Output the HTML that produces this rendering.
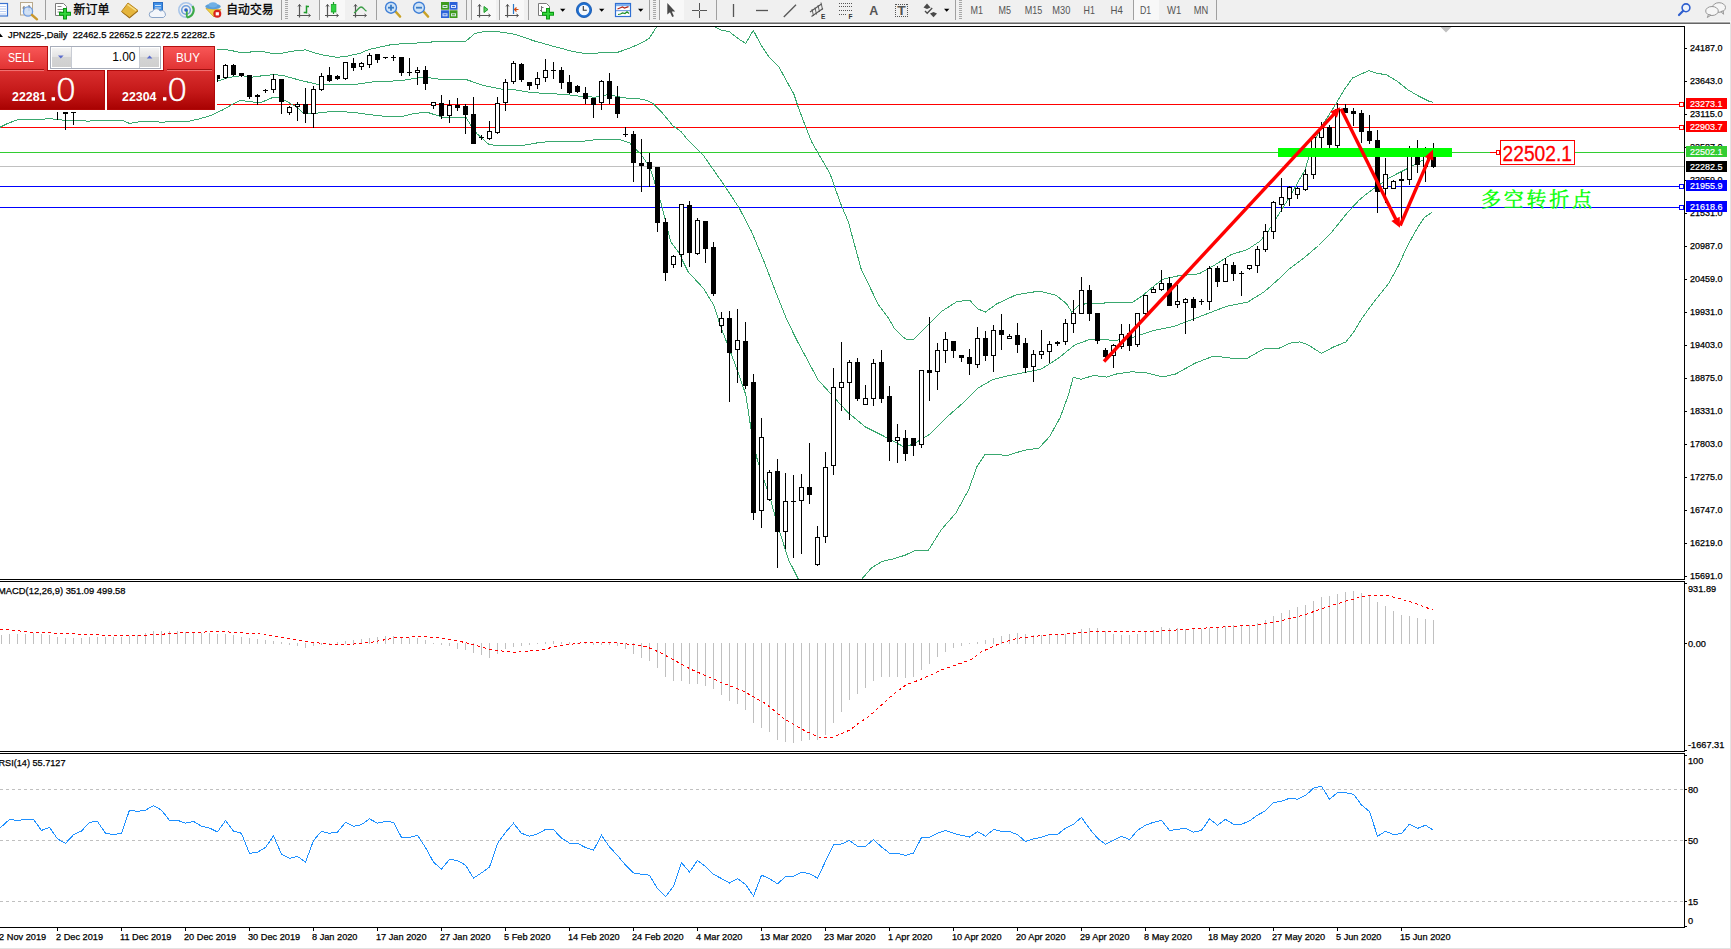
<!DOCTYPE html>
<html><head><meta charset="utf-8"><title>JPN225 Daily</title>
<style>html,body{margin:0;padding:0;background:#fff;overflow:hidden}body{width:1731px;height:949px;position:relative}text{white-space:pre}</style></head>
<body>
<svg width="1731" height="949" viewBox="0 0 1731 949" style="position:absolute;left:0;top:0;display:block">
<defs>
<clipPath id="cm"><rect x="0" y="27" width="1684" height="552"/></clipPath>
<clipPath id="cd"><rect x="0" y="582" width="1684" height="169"/></clipPath>
<clipPath id="cr"><rect x="0" y="754" width="1684" height="173"/></clipPath>
<linearGradient id="gtab" x1="0" y1="0" x2="0" y2="1"><stop offset="0" stop-color="#f85656"/><stop offset="1" stop-color="#df3030"/></linearGradient>
<linearGradient id="gblk" x1="0" y1="0" x2="0" y2="1"><stop offset="0" stop-color="#d92e2e"/><stop offset="0.55" stop-color="#c41818"/><stop offset="1" stop-color="#a90202"/></linearGradient>
<linearGradient id="gbtn" x1="0" y1="0" x2="0" y2="1"><stop offset="0" stop-color="#f4f4f4"/><stop offset="0.5" stop-color="#e2e2e2"/><stop offset="0.5" stop-color="#d4d4d4"/><stop offset="1" stop-color="#cfcfcf"/></linearGradient>
</defs>
<rect x="0" y="0" width="1731" height="949" fill="#fff" />
<g clip-path="url(#cm)" shape-rendering="crispEdges">
<rect x="0" y="104" width="1680" height="1" fill="#ff0000" />
<rect x="0" y="127" width="1680" height="1" fill="#ff0000" />
<rect x="0" y="152" width="1685" height="1" fill="#32cd32" />
<rect x="0" y="166" width="1685" height="1" fill="#c0c0c0" />
<rect x="0" y="186" width="1680" height="1" fill="#0000ff" />
<rect x="0" y="207" width="1680" height="1" fill="#0000ff" />
<polyline points="217.0,49.1 229.1,50.1 241.8,52.7 260.8,51.2 271.0,53.3 282.4,53.1 292.6,51.2 305.3,49.9 320.6,54.6 337.1,57.4 347.3,56.1 360.0,53.3 368.9,49.5 390.5,44.8 407.0,43.2 423.5,42.9 437.8,41.3 465.8,41.3 474.7,33.6 486.0,31.1 493.7,31.1 515.3,34.3 534.4,41.0 553.5,46.3 572.5,51.4 582.7,53.1 595.4,53.1 618.3,52.1 629.7,48.2 642.7,42.3 649.0,38.5 656.7,26.8 661.0,18.0 712.0,18.0 715.2,26.8 721.5,30.3 729.1,31.5 738.0,38.5 745.7,43.4 753.3,30.3 760.9,44.9 768.5,56.3 778.7,66.5 786.3,80.5 794.0,94.4 797.8,105.9 805.4,126.2 811.7,142.0 817.3,151.8 829.9,173.3 840.0,202.0 848.4,222.1 861.0,268.5 878.0,304.0 888.8,318.7 894.8,329.0 903.6,337.5 906.3,339.1 913.7,339.1 927.4,325.8 942.1,311.1 956.9,301.6 969.5,300.1 978.0,309.0 985.4,312.1 997.0,303.7 1016.0,294.9 1039.0,291.1 1056.0,295.3 1066.5,303.7 1071.8,312.1 1078.0,306.0 1085.5,303.7 1100.0,303.3 1116.9,302.2 1131.6,302.9 1142.1,295.9 1154.8,285.4 1163.2,279.1 1178.0,275.9 1199.0,273.8 1215.9,264.3 1230.7,254.8 1247.5,249.5 1260.2,241.1 1268.6,230.6 1279.1,213.7 1289.7,196.9 1299.2,180.0 1305.3,169.6 1310.6,150.0 1321.0,127.4 1331.7,110.6 1337.0,102.1 1344.3,89.5 1352.7,77.9 1369.0,70.6 1375.9,73.1 1386.4,74.8 1397.0,81.1 1407.5,89.5 1418.0,95.8 1428.6,101.1 1432.8,102.1" fill="none" stroke="#39a86f" stroke-width="1" />
<polyline points="217.0,81.3 229.0,77.5 241.8,75.6 252.0,77.2 263.4,75.6 273.5,74.7 282.4,75.3 299.0,80.0 318.0,84.5 337.0,84.7 353.6,84.7 372.7,81.9 388.0,81.3 403.0,80.4 419.7,77.5 427.6,77.5 439.0,79.1 465.8,79.4 483.5,85.5 502.6,89.3 511.5,89.3 531.8,92.7 547.0,93.4 566.0,94.6 582.7,96.5 595.4,97.2 608.0,94.6 623.4,97.8 630.0,98.3 637.6,98.6 646.5,100.2 652.9,103.3 661.8,112.2 673.2,126.2 680.8,131.3 688.3,140.5 703.5,155.6 721.2,180.9 738.9,207.5 751.5,231.5 764.2,261.9 776.8,294.7 786.9,320.0 797.4,341.3 818.0,379.7 831.3,394.4 847.5,412.1 865.2,426.9 882.9,435.7 903.6,446.7 912.6,444.5 929.5,434.4 946.4,417.5 963.2,402.8 978.0,388.0 992.7,379.6 1009.6,375.4 1026.4,372.2 1041.2,369.1 1058.0,358.5 1075.0,344.8 1089.7,339.5 1108.6,340.0 1116.9,340.2 1133.7,337.0 1152.7,330.7 1173.8,326.5 1190.6,320.1 1209.6,312.8 1226.4,306.4 1247.5,302.2 1264.4,291.7 1281.2,276.9 1290.0,268.3 1305.2,256.9 1318.5,245.5 1331.7,232.2 1346.9,213.3 1359.2,200.0 1365.4,194.9 1373.8,188.6 1390.7,177.0 1407.5,168.5 1424.4,159.1 1432.8,154.8" fill="none" stroke="#39a86f" stroke-width="1" />
<polyline points="0.0,127.3 7.6,123.5 16.5,120.1 22.9,119.1 44.5,119.1 48.3,118.2 54.7,119.4 63.6,120.1 82.6,120.1 87.7,121.6 94.0,120.1 122.0,120.1 129.6,123.5 139.8,121.6 156.3,121.4 161.4,122.6 169.0,121.4 188.1,121.4 198.3,119.1 209.7,115.9 222.7,109.9 231.6,104.8 240.5,100.1 248.1,101.6 260.8,102.6 273.5,97.2 277.4,97.4 286.0,101.0 296.0,106.7 304.0,113.4 314.2,113.7 320.6,112.4 337.0,111.4 353.6,112.4 375.0,115.3 390.5,116.9 400.6,116.9 413.0,113.7 423.5,112.4 427.6,112.4 442.9,117.3 465.8,117.3 470.8,125.1 477.2,134.0 488.6,144.2 496.3,145.5 521.7,145.5 540.7,142.3 559.8,141.0 585.0,141.0 600.5,139.1 618.3,139.1 629.7,142.9 632.6,146.8 640.2,153.1 650.3,168.3 660.5,201.2 670.6,241.6 678.2,251.7 688.3,272.0 703.5,288.4 713.6,304.9 720.7,326.6 735.4,364.9 745.7,394.4 751.6,432.8 757.5,460.8 770.8,500.6 778.2,527.2 788.5,559.7 798.8,580.0 810.0,600.0 850.0,600.0 861.0,580.0 871.6,567.8 882.1,561.5 894.8,558.5 905.3,555.1 915.9,550.1 928.5,550.1 941.2,529.8 955.9,513.0 968.6,489.8 977.0,466.6 985.4,454.0 1000.0,454.8 1007.5,455.5 1024.3,450.2 1039.0,448.1 1049.6,436.5 1060.2,417.5 1068.6,394.3 1073.2,377.5 1081.2,379.2 1093.9,375.4 1106.5,377.1 1116.9,373.9 1131.6,371.8 1146.4,372.8 1163.2,377.0 1175.9,373.9 1194.8,363.3 1213.8,356.0 1230.7,358.1 1247.5,358.1 1264.4,348.6 1279.1,348.2 1290.0,343.2 1299.5,341.9 1307.0,344.2 1321.3,353.3 1333.6,347.0 1346.0,341.9 1354.5,330.9 1361.1,319.5 1373.5,302.4 1388.6,283.5 1398.1,266.4 1407.6,245.5 1417.1,228.5 1424.7,217.1 1432.3,212.3" fill="none" stroke="#39a86f" stroke-width="1" />
<rect x="57" y="60" width="1" height="60" fill="#000" />
<rect x="55" y="62" width="5" height="39" fill="#000" />
<rect x="65" y="60" width="1" height="70" fill="#000" />
<rect x="63" y="70" width="5" height="44" fill="#000" />
<rect x="73" y="60" width="1" height="65" fill="#000" />
<rect x="71" y="80" width="5" height="33" fill="#000" />
<rect x="72" y="81" width="3" height="31" fill="#fff" />
<rect x="217" y="75" width="1" height="7" fill="#000" />
<rect x="215" y="75" width="5" height="4" fill="#000" />
<rect x="225" y="64" width="1" height="15" fill="#000" />
<rect x="223" y="65" width="5" height="13" fill="#000" />
<rect x="224" y="66" width="3" height="11" fill="#fff" />
<rect x="233" y="64" width="1" height="12" fill="#000" />
<rect x="231" y="65" width="5" height="10" fill="#000" />
<rect x="241" y="73" width="1" height="4" fill="#000" />
<rect x="239" y="73" width="5" height="3" fill="#000" />
<rect x="249" y="75" width="1" height="24" fill="#000" />
<rect x="247" y="75" width="5" height="22" fill="#000" />
<rect x="257" y="94" width="1" height="11" fill="#000" />
<rect x="255" y="95" width="5" height="2" fill="#000" />
<rect x="265" y="89" width="1" height="4" fill="#000" />
<rect x="263" y="90" width="5" height="1" fill="#000" />
<rect x="273" y="74" width="1" height="19" fill="#000" />
<rect x="271" y="79" width="5" height="11" fill="#000" />
<rect x="272" y="80" width="3" height="9" fill="#fff" />
<rect x="281" y="79" width="1" height="35" fill="#000" />
<rect x="279" y="79" width="5" height="23" fill="#000" />
<rect x="289" y="106" width="1" height="9" fill="#000" />
<rect x="287" y="107" width="5" height="6" fill="#000" />
<rect x="288" y="108" width="3" height="4" fill="#fff" />
<rect x="297" y="102" width="1" height="19" fill="#000" />
<rect x="295" y="104" width="5" height="3" fill="#000" />
<rect x="296" y="105" width="3" height="1" fill="#fff" />
<rect x="305" y="88" width="1" height="35" fill="#000" />
<rect x="303" y="104" width="5" height="10" fill="#000" />
<rect x="313" y="86" width="1" height="42" fill="#000" />
<rect x="311" y="89" width="5" height="25" fill="#000" />
<rect x="312" y="90" width="3" height="23" fill="#fff" />
<rect x="321" y="73" width="1" height="18" fill="#000" />
<rect x="319" y="76" width="5" height="14" fill="#000" />
<rect x="320" y="77" width="3" height="12" fill="#fff" />
<rect x="329" y="67" width="1" height="15" fill="#000" />
<rect x="327" y="75" width="5" height="6" fill="#000" />
<rect x="337" y="75" width="1" height="5" fill="#000" />
<rect x="335" y="76" width="5" height="3" fill="#000" />
<rect x="345" y="62" width="1" height="18" fill="#000" />
<rect x="343" y="62" width="5" height="17" fill="#000" />
<rect x="344" y="63" width="3" height="15" fill="#fff" />
<rect x="353" y="58" width="1" height="13" fill="#000" />
<rect x="351" y="63" width="5" height="5" fill="#000" />
<rect x="361" y="62" width="1" height="8" fill="#000" />
<rect x="359" y="63" width="5" height="4" fill="#000" />
<rect x="360" y="64" width="3" height="2" fill="#fff" />
<rect x="369" y="53" width="1" height="15" fill="#000" />
<rect x="367" y="55" width="5" height="10" fill="#000" />
<rect x="368" y="56" width="3" height="8" fill="#fff" />
<rect x="377" y="54" width="1" height="9" fill="#000" />
<rect x="375" y="54" width="5" height="6" fill="#000" />
<rect x="385" y="57" width="1" height="2" fill="#000" />
<rect x="383" y="57" width="5" height="1" fill="#000" />
<rect x="393" y="55" width="1" height="6" fill="#000" />
<rect x="391" y="57" width="5" height="1" fill="#000" />
<rect x="401" y="57" width="1" height="19" fill="#000" />
<rect x="399" y="57" width="5" height="16" fill="#000" />
<rect x="409" y="58" width="1" height="18" fill="#000" />
<rect x="407" y="72" width="5" height="1" fill="#000" />
<rect x="417" y="67" width="1" height="18" fill="#000" />
<rect x="415" y="70" width="5" height="3" fill="#000" />
<rect x="416" y="71" width="3" height="1" fill="#fff" />
<rect x="425" y="66" width="1" height="24" fill="#000" />
<rect x="423" y="70" width="5" height="14" fill="#000" />
<rect x="433" y="102" width="1" height="7" fill="#000" />
<rect x="431" y="102" width="5" height="4" fill="#000" />
<rect x="432" y="103" width="3" height="2" fill="#fff" />
<rect x="441" y="95" width="1" height="24" fill="#000" />
<rect x="439" y="103" width="5" height="13" fill="#000" />
<rect x="449" y="100" width="1" height="23" fill="#000" />
<rect x="447" y="105" width="5" height="11" fill="#000" />
<rect x="448" y="106" width="3" height="9" fill="#fff" />
<rect x="457" y="98" width="1" height="13" fill="#000" />
<rect x="455" y="105" width="5" height="3" fill="#000" />
<rect x="465" y="104" width="1" height="30" fill="#000" />
<rect x="463" y="106" width="5" height="9" fill="#000" />
<rect x="473" y="97" width="1" height="47" fill="#000" />
<rect x="471" y="114" width="5" height="30" fill="#000" />
<rect x="481" y="135" width="1" height="5" fill="#000" />
<rect x="479" y="137" width="5" height="1" fill="#000" />
<rect x="489" y="121" width="1" height="19" fill="#000" />
<rect x="487" y="131" width="5" height="8" fill="#000" />
<rect x="488" y="132" width="3" height="6" fill="#fff" />
<rect x="497" y="97" width="1" height="37" fill="#000" />
<rect x="495" y="103" width="5" height="30" fill="#000" />
<rect x="496" y="104" width="3" height="28" fill="#fff" />
<rect x="505" y="79" width="1" height="32" fill="#000" />
<rect x="503" y="82" width="5" height="21" fill="#000" />
<rect x="504" y="83" width="3" height="19" fill="#fff" />
<rect x="513" y="61" width="1" height="23" fill="#000" />
<rect x="511" y="63" width="5" height="19" fill="#000" />
<rect x="512" y="64" width="3" height="17" fill="#fff" />
<rect x="521" y="63" width="1" height="19" fill="#000" />
<rect x="519" y="64" width="5" height="16" fill="#000" />
<rect x="529" y="82" width="1" height="8" fill="#000" />
<rect x="527" y="82" width="5" height="4" fill="#000" />
<rect x="537" y="72" width="1" height="17" fill="#000" />
<rect x="535" y="78" width="5" height="7" fill="#000" />
<rect x="536" y="79" width="3" height="5" fill="#fff" />
<rect x="545" y="59" width="1" height="23" fill="#000" />
<rect x="543" y="70" width="5" height="8" fill="#000" />
<rect x="544" y="71" width="3" height="6" fill="#fff" />
<rect x="553" y="62" width="1" height="17" fill="#000" />
<rect x="551" y="70" width="5" height="1" fill="#000" />
<rect x="561" y="67" width="1" height="22" fill="#000" />
<rect x="559" y="70" width="5" height="13" fill="#000" />
<rect x="569" y="75" width="1" height="19" fill="#000" />
<rect x="567" y="82" width="5" height="11" fill="#000" />
<rect x="577" y="85" width="1" height="8" fill="#000" />
<rect x="575" y="86" width="5" height="6" fill="#000" />
<rect x="585" y="87" width="1" height="17" fill="#000" />
<rect x="583" y="93" width="5" height="6" fill="#000" />
<rect x="593" y="98" width="1" height="20" fill="#000" />
<rect x="591" y="98" width="5" height="7" fill="#000" />
<rect x="601" y="80" width="1" height="30" fill="#000" />
<rect x="599" y="81" width="5" height="22" fill="#000" />
<rect x="600" y="82" width="3" height="20" fill="#fff" />
<rect x="609" y="73" width="1" height="31" fill="#000" />
<rect x="607" y="81" width="5" height="18" fill="#000" />
<rect x="617" y="86" width="1" height="32" fill="#000" />
<rect x="615" y="97" width="5" height="17" fill="#000" />
<rect x="625" y="127" width="1" height="10" fill="#000" />
<rect x="623" y="134" width="5" height="1" fill="#000" />
<rect x="633" y="131" width="1" height="51" fill="#000" />
<rect x="631" y="134" width="5" height="29" fill="#000" />
<rect x="641" y="139" width="1" height="53" fill="#000" />
<rect x="639" y="163" width="5" height="3" fill="#000" />
<rect x="649" y="153" width="1" height="34" fill="#000" />
<rect x="647" y="162" width="5" height="7" fill="#000" />
<rect x="657" y="167" width="1" height="65" fill="#000" />
<rect x="655" y="167" width="5" height="56" fill="#000" />
<rect x="665" y="218" width="1" height="63" fill="#000" />
<rect x="663" y="222" width="5" height="51" fill="#000" />
<rect x="673" y="255" width="1" height="13" fill="#000" />
<rect x="671" y="256" width="5" height="9" fill="#000" />
<rect x="672" y="257" width="3" height="7" fill="#fff" />
<rect x="681" y="204" width="1" height="63" fill="#000" />
<rect x="679" y="204" width="5" height="51" fill="#000" />
<rect x="680" y="205" width="3" height="49" fill="#fff" />
<rect x="689" y="201" width="1" height="66" fill="#000" />
<rect x="687" y="205" width="5" height="48" fill="#000" />
<rect x="697" y="218" width="1" height="37" fill="#000" />
<rect x="695" y="220" width="5" height="34" fill="#000" />
<rect x="696" y="221" width="3" height="32" fill="#fff" />
<rect x="705" y="221" width="1" height="42" fill="#000" />
<rect x="703" y="221" width="5" height="28" fill="#000" />
<rect x="713" y="242" width="1" height="54" fill="#000" />
<rect x="711" y="247" width="5" height="47" fill="#000" />
<rect x="721" y="312" width="1" height="21" fill="#000" />
<rect x="719" y="318" width="5" height="8" fill="#000" />
<rect x="720" y="319" width="3" height="6" fill="#fff" />
<rect x="729" y="311" width="1" height="91" fill="#000" />
<rect x="727" y="318" width="5" height="35" fill="#000" />
<rect x="737" y="309" width="1" height="74" fill="#000" />
<rect x="735" y="340" width="5" height="10" fill="#000" />
<rect x="736" y="341" width="3" height="8" fill="#fff" />
<rect x="745" y="322" width="1" height="67" fill="#000" />
<rect x="743" y="341" width="5" height="45" fill="#000" />
<rect x="753" y="374" width="1" height="146" fill="#000" />
<rect x="751" y="382" width="5" height="131" fill="#000" />
<rect x="761" y="418" width="1" height="110" fill="#000" />
<rect x="759" y="437" width="5" height="74" fill="#000" />
<rect x="760" y="438" width="3" height="72" fill="#fff" />
<rect x="769" y="470" width="1" height="31" fill="#000" />
<rect x="767" y="472" width="5" height="28" fill="#000" />
<rect x="768" y="473" width="3" height="26" fill="#fff" />
<rect x="777" y="459" width="1" height="109" fill="#000" />
<rect x="775" y="471" width="5" height="61" fill="#000" />
<rect x="785" y="473" width="1" height="76" fill="#000" />
<rect x="783" y="501" width="5" height="31" fill="#000" />
<rect x="784" y="502" width="3" height="29" fill="#fff" />
<rect x="793" y="475" width="1" height="83" fill="#000" />
<rect x="791" y="501" width="5" height="1" fill="#000" />
<rect x="801" y="474" width="1" height="80" fill="#000" />
<rect x="799" y="487" width="5" height="14" fill="#000" />
<rect x="800" y="488" width="3" height="12" fill="#fff" />
<rect x="809" y="443" width="1" height="61" fill="#000" />
<rect x="807" y="487" width="5" height="8" fill="#000" />
<rect x="817" y="526" width="1" height="40" fill="#000" />
<rect x="815" y="537" width="5" height="28" fill="#000" />
<rect x="816" y="538" width="3" height="26" fill="#fff" />
<rect x="825" y="452" width="1" height="91" fill="#000" />
<rect x="823" y="467" width="5" height="70" fill="#000" />
<rect x="824" y="468" width="3" height="68" fill="#fff" />
<rect x="833" y="368" width="1" height="107" fill="#000" />
<rect x="831" y="387" width="5" height="79" fill="#000" />
<rect x="832" y="388" width="3" height="77" fill="#fff" />
<rect x="841" y="342" width="1" height="69" fill="#000" />
<rect x="839" y="382" width="5" height="6" fill="#000" />
<rect x="840" y="383" width="3" height="4" fill="#fff" />
<rect x="849" y="360" width="1" height="60" fill="#000" />
<rect x="847" y="362" width="5" height="21" fill="#000" />
<rect x="848" y="363" width="3" height="19" fill="#fff" />
<rect x="857" y="358" width="1" height="43" fill="#000" />
<rect x="855" y="362" width="5" height="37" fill="#000" />
<rect x="865" y="385" width="1" height="20" fill="#000" />
<rect x="863" y="398" width="5" height="7" fill="#000" />
<rect x="864" y="399" width="3" height="5" fill="#fff" />
<rect x="873" y="359" width="1" height="47" fill="#000" />
<rect x="871" y="363" width="5" height="36" fill="#000" />
<rect x="872" y="364" width="3" height="34" fill="#fff" />
<rect x="881" y="350" width="1" height="53" fill="#000" />
<rect x="879" y="362" width="5" height="37" fill="#000" />
<rect x="889" y="386" width="1" height="75" fill="#000" />
<rect x="887" y="396" width="5" height="46" fill="#000" />
<rect x="897" y="424" width="1" height="39" fill="#000" />
<rect x="895" y="437" width="5" height="4" fill="#000" />
<rect x="896" y="438" width="3" height="2" fill="#fff" />
<rect x="905" y="430" width="1" height="31" fill="#000" />
<rect x="903" y="438" width="5" height="16" fill="#000" />
<rect x="913" y="438" width="1" height="18" fill="#000" />
<rect x="911" y="438" width="5" height="8" fill="#000" />
<rect x="921" y="370" width="1" height="78" fill="#000" />
<rect x="919" y="370" width="5" height="75" fill="#000" />
<rect x="920" y="371" width="3" height="73" fill="#fff" />
<rect x="929" y="317" width="1" height="84" fill="#000" />
<rect x="927" y="370" width="5" height="3" fill="#000" />
<rect x="937" y="343" width="1" height="47" fill="#000" />
<rect x="935" y="350" width="5" height="22" fill="#000" />
<rect x="936" y="351" width="3" height="20" fill="#fff" />
<rect x="945" y="332" width="1" height="31" fill="#000" />
<rect x="943" y="339" width="5" height="12" fill="#000" />
<rect x="944" y="340" width="3" height="10" fill="#fff" />
<rect x="953" y="341" width="1" height="17" fill="#000" />
<rect x="951" y="341" width="5" height="10" fill="#000" />
<rect x="961" y="355" width="1" height="7" fill="#000" />
<rect x="959" y="355" width="5" height="3" fill="#000" />
<rect x="969" y="349" width="1" height="26" fill="#000" />
<rect x="967" y="357" width="5" height="7" fill="#000" />
<rect x="977" y="327" width="1" height="41" fill="#000" />
<rect x="975" y="338" width="5" height="27" fill="#000" />
<rect x="976" y="339" width="3" height="25" fill="#fff" />
<rect x="985" y="331" width="1" height="30" fill="#000" />
<rect x="983" y="338" width="5" height="18" fill="#000" />
<rect x="993" y="325" width="1" height="47" fill="#000" />
<rect x="991" y="330" width="5" height="26" fill="#000" />
<rect x="992" y="331" width="3" height="24" fill="#fff" />
<rect x="1001" y="314" width="1" height="36" fill="#000" />
<rect x="999" y="330" width="5" height="5" fill="#000" />
<rect x="1009" y="334" width="1" height="5" fill="#000" />
<rect x="1007" y="336" width="5" height="3" fill="#000" />
<rect x="1008" y="337" width="3" height="1" fill="#fff" />
<rect x="1017" y="323" width="1" height="30" fill="#000" />
<rect x="1015" y="335" width="5" height="10" fill="#000" />
<rect x="1025" y="338" width="1" height="35" fill="#000" />
<rect x="1023" y="343" width="5" height="25" fill="#000" />
<rect x="1033" y="350" width="1" height="32" fill="#000" />
<rect x="1031" y="354" width="5" height="13" fill="#000" />
<rect x="1032" y="355" width="3" height="11" fill="#fff" />
<rect x="1041" y="330" width="1" height="29" fill="#000" />
<rect x="1039" y="351" width="5" height="4" fill="#000" />
<rect x="1040" y="352" width="3" height="2" fill="#fff" />
<rect x="1049" y="341" width="1" height="22" fill="#000" />
<rect x="1047" y="344" width="5" height="8" fill="#000" />
<rect x="1048" y="345" width="3" height="6" fill="#fff" />
<rect x="1057" y="341" width="1" height="5" fill="#000" />
<rect x="1055" y="342" width="5" height="2" fill="#000" />
<rect x="1065" y="319" width="1" height="26" fill="#000" />
<rect x="1063" y="323" width="5" height="19" fill="#000" />
<rect x="1064" y="324" width="3" height="17" fill="#fff" />
<rect x="1073" y="300" width="1" height="33" fill="#000" />
<rect x="1071" y="313" width="5" height="11" fill="#000" />
<rect x="1072" y="314" width="3" height="9" fill="#fff" />
<rect x="1081" y="277" width="1" height="37" fill="#000" />
<rect x="1079" y="290" width="5" height="24" fill="#000" />
<rect x="1080" y="291" width="3" height="22" fill="#fff" />
<rect x="1089" y="285" width="1" height="36" fill="#000" />
<rect x="1087" y="290" width="5" height="24" fill="#000" />
<rect x="1097" y="313" width="1" height="31" fill="#000" />
<rect x="1095" y="313" width="5" height="28" fill="#000" />
<rect x="1105" y="348" width="1" height="11" fill="#000" />
<rect x="1103" y="350" width="5" height="7" fill="#000" />
<rect x="1113" y="344" width="1" height="24" fill="#000" />
<rect x="1111" y="345" width="5" height="11" fill="#000" />
<rect x="1112" y="346" width="3" height="9" fill="#fff" />
<rect x="1121" y="324" width="1" height="25" fill="#000" />
<rect x="1119" y="334" width="5" height="13" fill="#000" />
<rect x="1120" y="335" width="3" height="11" fill="#fff" />
<rect x="1129" y="324" width="1" height="27" fill="#000" />
<rect x="1127" y="333" width="5" height="13" fill="#000" />
<rect x="1137" y="313" width="1" height="34" fill="#000" />
<rect x="1135" y="313" width="5" height="32" fill="#000" />
<rect x="1136" y="314" width="3" height="30" fill="#fff" />
<rect x="1145" y="295" width="1" height="21" fill="#000" />
<rect x="1143" y="295" width="5" height="19" fill="#000" />
<rect x="1144" y="296" width="3" height="17" fill="#fff" />
<rect x="1153" y="287" width="1" height="6" fill="#000" />
<rect x="1151" y="289" width="5" height="4" fill="#000" />
<rect x="1152" y="290" width="3" height="2" fill="#fff" />
<rect x="1161" y="270" width="1" height="21" fill="#000" />
<rect x="1159" y="283" width="5" height="7" fill="#000" />
<rect x="1160" y="284" width="3" height="5" fill="#fff" />
<rect x="1169" y="277" width="1" height="29" fill="#000" />
<rect x="1167" y="283" width="5" height="23" fill="#000" />
<rect x="1177" y="285" width="1" height="23" fill="#000" />
<rect x="1175" y="301" width="5" height="4" fill="#000" />
<rect x="1176" y="302" width="3" height="2" fill="#fff" />
<rect x="1185" y="298" width="1" height="36" fill="#000" />
<rect x="1183" y="299" width="5" height="4" fill="#000" />
<rect x="1184" y="300" width="3" height="2" fill="#fff" />
<rect x="1193" y="297" width="1" height="24" fill="#000" />
<rect x="1191" y="299" width="5" height="9" fill="#000" />
<rect x="1201" y="299" width="1" height="6" fill="#000" />
<rect x="1199" y="301" width="5" height="1" fill="#000" />
<rect x="1209" y="266" width="1" height="44" fill="#000" />
<rect x="1207" y="268" width="5" height="34" fill="#000" />
<rect x="1208" y="269" width="3" height="32" fill="#fff" />
<rect x="1217" y="266" width="1" height="21" fill="#000" />
<rect x="1215" y="268" width="5" height="14" fill="#000" />
<rect x="1225" y="258" width="1" height="24" fill="#000" />
<rect x="1223" y="264" width="5" height="18" fill="#000" />
<rect x="1224" y="265" width="3" height="16" fill="#fff" />
<rect x="1233" y="262" width="1" height="19" fill="#000" />
<rect x="1231" y="265" width="5" height="9" fill="#000" />
<rect x="1241" y="271" width="1" height="25" fill="#000" />
<rect x="1239" y="273" width="5" height="1" fill="#000" />
<rect x="1249" y="265" width="1" height="5" fill="#000" />
<rect x="1247" y="265" width="5" height="4" fill="#000" />
<rect x="1248" y="266" width="3" height="2" fill="#fff" />
<rect x="1257" y="246" width="1" height="27" fill="#000" />
<rect x="1255" y="249" width="5" height="17" fill="#000" />
<rect x="1256" y="250" width="3" height="15" fill="#fff" />
<rect x="1265" y="224" width="1" height="28" fill="#000" />
<rect x="1263" y="231" width="5" height="19" fill="#000" />
<rect x="1264" y="232" width="3" height="17" fill="#fff" />
<rect x="1273" y="201" width="1" height="38" fill="#000" />
<rect x="1271" y="202" width="5" height="30" fill="#000" />
<rect x="1272" y="203" width="3" height="28" fill="#fff" />
<rect x="1281" y="178" width="1" height="34" fill="#000" />
<rect x="1279" y="197" width="5" height="8" fill="#000" />
<rect x="1280" y="198" width="3" height="6" fill="#fff" />
<rect x="1289" y="186" width="1" height="20" fill="#000" />
<rect x="1287" y="187" width="5" height="12" fill="#000" />
<rect x="1288" y="188" width="3" height="10" fill="#fff" />
<rect x="1297" y="187" width="1" height="12" fill="#000" />
<rect x="1295" y="188" width="5" height="7" fill="#000" />
<rect x="1296" y="189" width="3" height="5" fill="#fff" />
<rect x="1305" y="169" width="1" height="22" fill="#000" />
<rect x="1303" y="174" width="5" height="16" fill="#000" />
<rect x="1304" y="175" width="3" height="14" fill="#fff" />
<rect x="1313" y="134" width="1" height="45" fill="#000" />
<rect x="1311" y="137" width="5" height="38" fill="#000" />
<rect x="1312" y="138" width="3" height="36" fill="#fff" />
<rect x="1321" y="122" width="1" height="27" fill="#000" />
<rect x="1319" y="128" width="5" height="10" fill="#000" />
<rect x="1320" y="129" width="3" height="8" fill="#fff" />
<rect x="1329" y="125" width="1" height="23" fill="#000" />
<rect x="1327" y="127" width="5" height="18" fill="#000" />
<rect x="1337" y="103" width="1" height="46" fill="#000" />
<rect x="1335" y="109" width="5" height="37" fill="#000" />
<rect x="1336" y="110" width="3" height="35" fill="#fff" />
<rect x="1345" y="104" width="1" height="9" fill="#000" />
<rect x="1343" y="108" width="5" height="5" fill="#000" />
<rect x="1353" y="108" width="1" height="18" fill="#000" />
<rect x="1351" y="111" width="5" height="3" fill="#000" />
<rect x="1361" y="110" width="1" height="33" fill="#000" />
<rect x="1359" y="113" width="5" height="19" fill="#000" />
<rect x="1369" y="115" width="1" height="29" fill="#000" />
<rect x="1367" y="131" width="5" height="10" fill="#000" />
<rect x="1377" y="130" width="1" height="83" fill="#000" />
<rect x="1375" y="140" width="5" height="52" fill="#000" />
<rect x="1385" y="158" width="1" height="45" fill="#000" />
<rect x="1383" y="174" width="5" height="15" fill="#000" />
<rect x="1384" y="175" width="3" height="13" fill="#fff" />
<rect x="1393" y="180" width="1" height="9" fill="#000" />
<rect x="1391" y="181" width="5" height="8" fill="#000" />
<rect x="1392" y="182" width="3" height="6" fill="#fff" />
<rect x="1401" y="172" width="1" height="48" fill="#000" />
<rect x="1399" y="179" width="5" height="2" fill="#000" />
<rect x="1409" y="146" width="1" height="39" fill="#000" />
<rect x="1407" y="150" width="5" height="30" fill="#000" />
<rect x="1408" y="151" width="3" height="28" fill="#fff" />
<rect x="1417" y="140" width="1" height="33" fill="#000" />
<rect x="1415" y="152" width="5" height="13" fill="#000" />
<rect x="1425" y="147" width="1" height="35" fill="#000" />
<rect x="1423" y="151" width="5" height="16" fill="#000" />
<rect x="1424" y="152" width="3" height="14" fill="#fff" />
<rect x="1433" y="143" width="1" height="25" fill="#000" />
<rect x="1431" y="155" width="5" height="12" fill="#000" />
</g>
<rect x="1278" y="148" width="174" height="9" fill="#00ff00" shape-rendering="crispEdges"/>
<g clip-path="url(#cm)">
<line x1="1104.0" y1="361.5" x2="1334.9" y2="113.2" stroke="#ff0000" stroke-width="3.4"/>
<polygon points="1340.3,107.3 1336.9,117.8 1330.1,111.5" fill="#ff0000"/>
<line x1="1341.0" y1="108.8" x2="1396.4" y2="220.6" stroke="#ff0000" stroke-width="3.4"/>
<polygon points="1400.0,227.8 1391.4,220.9 1399.7,216.8" fill="#ff0000"/>
<line x1="1400.2" y1="225.5" x2="1429.8" y2="156.8" stroke="#ff0000" stroke-width="3.4"/>
<polygon points="1433.0,149.5 1433.3,160.5 1424.8,156.9" fill="#ff0000"/>
</g>
<g shape-rendering="crispEdges">
<rect x="1490" y="152" width="10" height="1" fill="#ff0000" />
<rect x="1496" y="150" width="4" height="5" fill="#ff0000" />
<rect x="1497" y="151" width="2" height="3" fill="#fff" />
<rect x="1500" y="140" width="75" height="25" fill="#ff0000" />
<rect x="1501" y="141" width="73" height="23" fill="#fff" />
</g>
<text x="1502.5" y="160.5" font-size="22" fill="#ff0000" text-anchor="start" font-weight="normal" font-family='"Liberation Sans", sans-serif' textLength="69.5" lengthAdjust="spacingAndGlyphs" stroke="#ff0000" stroke-width="0.3">22502.1</text>
<text x="1481" y="207" font-size="20" fill="#00ff00" text-anchor="start" font-weight="normal" font-family='"Liberation Serif", "Noto Serif CJK SC", serif' textLength="111" lengthAdjust="spacing" stroke="#00ff00" stroke-width="0.35">多空转折点</text>
<polygon points="1440.5,27 1451.5,27 1446,32.5" fill="#c0c0c0"/>
<g shape-rendering="crispEdges">
<rect x="0" y="26" width="1685" height="1" fill="#000" />
<rect x="1684" y="26" width="1" height="554" fill="#000" />
<rect x="0" y="579" width="1685" height="1" fill="#000" />
<rect x="0" y="581" width="1685" height="1" fill="#000" />
<rect x="1684" y="581" width="1" height="171" fill="#000" />
<rect x="0" y="751" width="1685" height="1" fill="#000" />
<rect x="0" y="753" width="1685" height="1" fill="#000" />
<rect x="1684" y="753" width="1" height="175" fill="#000" />
<rect x="0" y="927" width="1685" height="1" fill="#000" />
<rect x="1730" y="23" width="1" height="926" fill="#e3e3e3" />
<rect x="0" y="948" width="1731" height="1" fill="#e3e3e3" />
<rect x="1685" y="48" width="2" height="1" fill="#000" />
<rect x="1685" y="81" width="2" height="1" fill="#000" />
<rect x="1685" y="114" width="2" height="1" fill="#000" />
<rect x="1685" y="147" width="2" height="1" fill="#000" />
<rect x="1685" y="180" width="2" height="1" fill="#000" />
<rect x="1685" y="213" width="2" height="1" fill="#000" />
<rect x="1685" y="246" width="2" height="1" fill="#000" />
<rect x="1685" y="279" width="2" height="1" fill="#000" />
<rect x="1685" y="312" width="2" height="1" fill="#000" />
<rect x="1685" y="345" width="2" height="1" fill="#000" />
<rect x="1685" y="378" width="2" height="1" fill="#000" />
<rect x="1685" y="411" width="2" height="1" fill="#000" />
<rect x="1685" y="444" width="2" height="1" fill="#000" />
<rect x="1685" y="477" width="2" height="1" fill="#000" />
<rect x="1685" y="510" width="2" height="1" fill="#000" />
<rect x="1685" y="543" width="2" height="1" fill="#000" />
<rect x="1685" y="576" width="2" height="1" fill="#000" />
<rect x="1685" y="583" width="2" height="1" fill="#000" />
<rect x="1685" y="643" width="2" height="1" fill="#000" />
<rect x="1685" y="750" width="2" height="1" fill="#000" />
<rect x="1685" y="755" width="2" height="1" fill="#000" />
<rect x="1685" y="789" width="2" height="1" fill="#000" />
<rect x="1685" y="840" width="2" height="1" fill="#000" />
<rect x="1685" y="901" width="2" height="1" fill="#000" />
<rect x="1685" y="926" width="2" height="1" fill="#000" />
<rect x="57" y="928" width="1" height="3" fill="#000" />
<rect x="121" y="928" width="1" height="3" fill="#000" />
<rect x="185" y="928" width="1" height="3" fill="#000" />
<rect x="249" y="928" width="1" height="3" fill="#000" />
<rect x="313" y="928" width="1" height="3" fill="#000" />
<rect x="377" y="928" width="1" height="3" fill="#000" />
<rect x="441" y="928" width="1" height="3" fill="#000" />
<rect x="505" y="928" width="1" height="3" fill="#000" />
<rect x="569" y="928" width="1" height="3" fill="#000" />
<rect x="633" y="928" width="1" height="3" fill="#000" />
<rect x="697" y="928" width="1" height="3" fill="#000" />
<rect x="761" y="928" width="1" height="3" fill="#000" />
<rect x="825" y="928" width="1" height="3" fill="#000" />
<rect x="889" y="928" width="1" height="3" fill="#000" />
<rect x="953" y="928" width="1" height="3" fill="#000" />
<rect x="1017" y="928" width="1" height="3" fill="#000" />
<rect x="1081" y="928" width="1" height="3" fill="#000" />
<rect x="1145" y="928" width="1" height="3" fill="#000" />
<rect x="1209" y="928" width="1" height="3" fill="#000" />
<rect x="1273" y="928" width="1" height="3" fill="#000" />
<rect x="1337" y="928" width="1" height="3" fill="#000" />
<rect x="1401" y="928" width="1" height="3" fill="#000" />
</g>
<text x="1690" y="51.4" font-size="9.2" fill="#000" text-anchor="start" font-weight="normal" font-family='"Liberation Sans", sans-serif' textLength="32.5" lengthAdjust="spacingAndGlyphs" stroke="#000" stroke-width="0.25">24187.0</text>
<text x="1690" y="84.4" font-size="9.2" fill="#000" text-anchor="start" font-weight="normal" font-family='"Liberation Sans", sans-serif' textLength="32.5" lengthAdjust="spacingAndGlyphs" stroke="#000" stroke-width="0.25">23643.0</text>
<text x="1690" y="117.4" font-size="9.2" fill="#000" text-anchor="start" font-weight="normal" font-family='"Liberation Sans", sans-serif' textLength="32.5" lengthAdjust="spacingAndGlyphs" stroke="#000" stroke-width="0.25">23115.0</text>
<text x="1690" y="150.4" font-size="9.2" fill="#000" text-anchor="start" font-weight="normal" font-family='"Liberation Sans", sans-serif' textLength="32.5" lengthAdjust="spacingAndGlyphs" stroke="#000" stroke-width="0.25">22587.0</text>
<text x="1690" y="183.4" font-size="9.2" fill="#000" text-anchor="start" font-weight="normal" font-family='"Liberation Sans", sans-serif' textLength="32.5" lengthAdjust="spacingAndGlyphs" stroke="#000" stroke-width="0.25">22059.0</text>
<text x="1690" y="216.4" font-size="9.2" fill="#000" text-anchor="start" font-weight="normal" font-family='"Liberation Sans", sans-serif' textLength="32.5" lengthAdjust="spacingAndGlyphs" stroke="#000" stroke-width="0.25">21531.0</text>
<text x="1690" y="249.4" font-size="9.2" fill="#000" text-anchor="start" font-weight="normal" font-family='"Liberation Sans", sans-serif' textLength="32.5" lengthAdjust="spacingAndGlyphs" stroke="#000" stroke-width="0.25">20987.0</text>
<text x="1690" y="282.4" font-size="9.2" fill="#000" text-anchor="start" font-weight="normal" font-family='"Liberation Sans", sans-serif' textLength="32.5" lengthAdjust="spacingAndGlyphs" stroke="#000" stroke-width="0.25">20459.0</text>
<text x="1690" y="315.4" font-size="9.2" fill="#000" text-anchor="start" font-weight="normal" font-family='"Liberation Sans", sans-serif' textLength="32.5" lengthAdjust="spacingAndGlyphs" stroke="#000" stroke-width="0.25">19931.0</text>
<text x="1690" y="348.4" font-size="9.2" fill="#000" text-anchor="start" font-weight="normal" font-family='"Liberation Sans", sans-serif' textLength="32.5" lengthAdjust="spacingAndGlyphs" stroke="#000" stroke-width="0.25">19403.0</text>
<text x="1690" y="381.4" font-size="9.2" fill="#000" text-anchor="start" font-weight="normal" font-family='"Liberation Sans", sans-serif' textLength="32.5" lengthAdjust="spacingAndGlyphs" stroke="#000" stroke-width="0.25">18875.0</text>
<text x="1690" y="414.4" font-size="9.2" fill="#000" text-anchor="start" font-weight="normal" font-family='"Liberation Sans", sans-serif' textLength="32.5" lengthAdjust="spacingAndGlyphs" stroke="#000" stroke-width="0.25">18331.0</text>
<text x="1690" y="447.4" font-size="9.2" fill="#000" text-anchor="start" font-weight="normal" font-family='"Liberation Sans", sans-serif' textLength="32.5" lengthAdjust="spacingAndGlyphs" stroke="#000" stroke-width="0.25">17803.0</text>
<text x="1690" y="480.4" font-size="9.2" fill="#000" text-anchor="start" font-weight="normal" font-family='"Liberation Sans", sans-serif' textLength="32.5" lengthAdjust="spacingAndGlyphs" stroke="#000" stroke-width="0.25">17275.0</text>
<text x="1690" y="513.4" font-size="9.2" fill="#000" text-anchor="start" font-weight="normal" font-family='"Liberation Sans", sans-serif' textLength="32.5" lengthAdjust="spacingAndGlyphs" stroke="#000" stroke-width="0.25">16747.0</text>
<text x="1690" y="546.4" font-size="9.2" fill="#000" text-anchor="start" font-weight="normal" font-family='"Liberation Sans", sans-serif' textLength="32.5" lengthAdjust="spacingAndGlyphs" stroke="#000" stroke-width="0.25">16219.0</text>
<text x="1690" y="579.4" font-size="9.2" fill="#000" text-anchor="start" font-weight="normal" font-family='"Liberation Sans", sans-serif' textLength="32.5" lengthAdjust="spacingAndGlyphs" stroke="#000" stroke-width="0.25">15691.0</text>
<text x="1688" y="592" font-size="9.2" fill="#000" text-anchor="start" font-weight="normal" font-family='"Liberation Sans", sans-serif' stroke="#000" stroke-width="0.25">931.89</text>
<text x="1688" y="647" font-size="9.2" fill="#000" text-anchor="start" font-weight="normal" font-family='"Liberation Sans", sans-serif' stroke="#000" stroke-width="0.25">0.00</text>
<text x="1688" y="748.3" font-size="9.2" fill="#000" text-anchor="start" font-weight="normal" font-family='"Liberation Sans", sans-serif' stroke="#000" stroke-width="0.25">-1667.31</text>
<text x="1688" y="764" font-size="9.2" fill="#000" text-anchor="start" font-weight="normal" font-family='"Liberation Sans", sans-serif' stroke="#000" stroke-width="0.25">100</text>
<text x="1688" y="793" font-size="9.2" fill="#000" text-anchor="start" font-weight="normal" font-family='"Liberation Sans", sans-serif' stroke="#000" stroke-width="0.25">80</text>
<text x="1688" y="844" font-size="9.2" fill="#000" text-anchor="start" font-weight="normal" font-family='"Liberation Sans", sans-serif' stroke="#000" stroke-width="0.25">50</text>
<text x="1688" y="905" font-size="9.2" fill="#000" text-anchor="start" font-weight="normal" font-family='"Liberation Sans", sans-serif' stroke="#000" stroke-width="0.25">15</text>
<text x="1688" y="924" font-size="9.2" fill="#000" text-anchor="start" font-weight="normal" font-family='"Liberation Sans", sans-serif' stroke="#000" stroke-width="0.25">0</text>
<text x="-6" y="940" font-size="9.2" fill="#000" text-anchor="start" font-weight="normal" font-family='"Liberation Sans", sans-serif' stroke="#000" stroke-width="0.25">22 Nov 2019</text>
<text x="56" y="940" font-size="9.2" fill="#000" text-anchor="start" font-weight="normal" font-family='"Liberation Sans", sans-serif' stroke="#000" stroke-width="0.25">2 Dec 2019</text>
<text x="120" y="940" font-size="9.2" fill="#000" text-anchor="start" font-weight="normal" font-family='"Liberation Sans", sans-serif' stroke="#000" stroke-width="0.25">11 Dec 2019</text>
<text x="184" y="940" font-size="9.2" fill="#000" text-anchor="start" font-weight="normal" font-family='"Liberation Sans", sans-serif' stroke="#000" stroke-width="0.25">20 Dec 2019</text>
<text x="248" y="940" font-size="9.2" fill="#000" text-anchor="start" font-weight="normal" font-family='"Liberation Sans", sans-serif' stroke="#000" stroke-width="0.25">30 Dec 2019</text>
<text x="312" y="940" font-size="9.2" fill="#000" text-anchor="start" font-weight="normal" font-family='"Liberation Sans", sans-serif' stroke="#000" stroke-width="0.25">8 Jan 2020</text>
<text x="376" y="940" font-size="9.2" fill="#000" text-anchor="start" font-weight="normal" font-family='"Liberation Sans", sans-serif' stroke="#000" stroke-width="0.25">17 Jan 2020</text>
<text x="440" y="940" font-size="9.2" fill="#000" text-anchor="start" font-weight="normal" font-family='"Liberation Sans", sans-serif' stroke="#000" stroke-width="0.25">27 Jan 2020</text>
<text x="504" y="940" font-size="9.2" fill="#000" text-anchor="start" font-weight="normal" font-family='"Liberation Sans", sans-serif' stroke="#000" stroke-width="0.25">5 Feb 2020</text>
<text x="568" y="940" font-size="9.2" fill="#000" text-anchor="start" font-weight="normal" font-family='"Liberation Sans", sans-serif' stroke="#000" stroke-width="0.25">14 Feb 2020</text>
<text x="632" y="940" font-size="9.2" fill="#000" text-anchor="start" font-weight="normal" font-family='"Liberation Sans", sans-serif' stroke="#000" stroke-width="0.25">24 Feb 2020</text>
<text x="696" y="940" font-size="9.2" fill="#000" text-anchor="start" font-weight="normal" font-family='"Liberation Sans", sans-serif' stroke="#000" stroke-width="0.25">4 Mar 2020</text>
<text x="760" y="940" font-size="9.2" fill="#000" text-anchor="start" font-weight="normal" font-family='"Liberation Sans", sans-serif' stroke="#000" stroke-width="0.25">13 Mar 2020</text>
<text x="824" y="940" font-size="9.2" fill="#000" text-anchor="start" font-weight="normal" font-family='"Liberation Sans", sans-serif' stroke="#000" stroke-width="0.25">23 Mar 2020</text>
<text x="888" y="940" font-size="9.2" fill="#000" text-anchor="start" font-weight="normal" font-family='"Liberation Sans", sans-serif' stroke="#000" stroke-width="0.25">1 Apr 2020</text>
<text x="952" y="940" font-size="9.2" fill="#000" text-anchor="start" font-weight="normal" font-family='"Liberation Sans", sans-serif' stroke="#000" stroke-width="0.25">10 Apr 2020</text>
<text x="1016" y="940" font-size="9.2" fill="#000" text-anchor="start" font-weight="normal" font-family='"Liberation Sans", sans-serif' stroke="#000" stroke-width="0.25">20 Apr 2020</text>
<text x="1080" y="940" font-size="9.2" fill="#000" text-anchor="start" font-weight="normal" font-family='"Liberation Sans", sans-serif' stroke="#000" stroke-width="0.25">29 Apr 2020</text>
<text x="1144" y="940" font-size="9.2" fill="#000" text-anchor="start" font-weight="normal" font-family='"Liberation Sans", sans-serif' stroke="#000" stroke-width="0.25">8 May 2020</text>
<text x="1208" y="940" font-size="9.2" fill="#000" text-anchor="start" font-weight="normal" font-family='"Liberation Sans", sans-serif' stroke="#000" stroke-width="0.25">18 May 2020</text>
<text x="1272" y="940" font-size="9.2" fill="#000" text-anchor="start" font-weight="normal" font-family='"Liberation Sans", sans-serif' stroke="#000" stroke-width="0.25">27 May 2020</text>
<text x="1336" y="940" font-size="9.2" fill="#000" text-anchor="start" font-weight="normal" font-family='"Liberation Sans", sans-serif' stroke="#000" stroke-width="0.25">5 Jun 2020</text>
<text x="1400" y="940" font-size="9.2" fill="#000" text-anchor="start" font-weight="normal" font-family='"Liberation Sans", sans-serif' stroke="#000" stroke-width="0.25">15 Jun 2020</text>
<g shape-rendering="crispEdges">
<rect x="1686" y="98" width="41" height="11" fill="#ff0000" />
<rect x="1679" y="102" width="5" height="5" fill="#ff0000" />
<rect x="1680" y="103" width="3" height="3" fill="#fff" />
<rect x="1686" y="121" width="41" height="11" fill="#ff0000" />
<rect x="1679" y="125" width="5" height="5" fill="#ff0000" />
<rect x="1680" y="126" width="3" height="3" fill="#fff" />
<rect x="1686" y="146" width="41" height="11" fill="#32cd32" />
<rect x="1686" y="161" width="41" height="11" fill="#000000" />
<rect x="1686" y="180" width="41" height="11" fill="#0000ff" />
<rect x="1679" y="184" width="5" height="5" fill="#0000ff" />
<rect x="1680" y="185" width="3" height="3" fill="#fff" />
<rect x="1686" y="201" width="41" height="11" fill="#0000ff" />
<rect x="1679" y="205" width="5" height="5" fill="#0000ff" />
<rect x="1680" y="206" width="3" height="3" fill="#fff" />
</g>
<text x="1690" y="106.8" font-size="9.2" fill="#fff" text-anchor="start" font-weight="normal" font-family='"Liberation Sans", sans-serif' textLength="32.5" lengthAdjust="spacingAndGlyphs" stroke="#fff" stroke-width="0.2">23273.1</text>
<text x="1690" y="129.8" font-size="9.2" fill="#fff" text-anchor="start" font-weight="normal" font-family='"Liberation Sans", sans-serif' textLength="32.5" lengthAdjust="spacingAndGlyphs" stroke="#fff" stroke-width="0.2">22903.7</text>
<text x="1690" y="154.8" font-size="9.2" fill="#fff" text-anchor="start" font-weight="normal" font-family='"Liberation Sans", sans-serif' textLength="32.5" lengthAdjust="spacingAndGlyphs" stroke="#fff" stroke-width="0.2">22502.1</text>
<text x="1690" y="169.8" font-size="9.2" fill="#fff" text-anchor="start" font-weight="normal" font-family='"Liberation Sans", sans-serif' textLength="32.5" lengthAdjust="spacingAndGlyphs" stroke="#fff" stroke-width="0.2">22282.5</text>
<text x="1690" y="188.8" font-size="9.2" fill="#fff" text-anchor="start" font-weight="normal" font-family='"Liberation Sans", sans-serif' textLength="32.5" lengthAdjust="spacingAndGlyphs" stroke="#fff" stroke-width="0.2">21955.9</text>
<text x="1690" y="209.8" font-size="9.2" fill="#fff" text-anchor="start" font-weight="normal" font-family='"Liberation Sans", sans-serif' textLength="32.5" lengthAdjust="spacingAndGlyphs" stroke="#fff" stroke-width="0.2">21618.6</text>
<g clip-path="url(#cd)" shape-rendering="crispEdges">
<rect x="1" y="635" width="1" height="9" fill="#c0c0c0" />
<rect x="9" y="634" width="1" height="10" fill="#c0c0c0" />
<rect x="17" y="634" width="1" height="10" fill="#c0c0c0" />
<rect x="25" y="634" width="1" height="10" fill="#c0c0c0" />
<rect x="33" y="633" width="1" height="11" fill="#c0c0c0" />
<rect x="41" y="634" width="1" height="10" fill="#c0c0c0" />
<rect x="49" y="635" width="1" height="9" fill="#c0c0c0" />
<rect x="57" y="637" width="1" height="7" fill="#c0c0c0" />
<rect x="65" y="638" width="1" height="6" fill="#c0c0c0" />
<rect x="73" y="638" width="1" height="6" fill="#c0c0c0" />
<rect x="81" y="638" width="1" height="6" fill="#c0c0c0" />
<rect x="89" y="637" width="1" height="7" fill="#c0c0c0" />
<rect x="97" y="637" width="1" height="7" fill="#c0c0c0" />
<rect x="105" y="637" width="1" height="7" fill="#c0c0c0" />
<rect x="113" y="637" width="1" height="7" fill="#c0c0c0" />
<rect x="121" y="637" width="1" height="7" fill="#c0c0c0" />
<rect x="129" y="636" width="1" height="8" fill="#c0c0c0" />
<rect x="137" y="635" width="1" height="9" fill="#c0c0c0" />
<rect x="145" y="633" width="1" height="11" fill="#c0c0c0" />
<rect x="153" y="631" width="1" height="13" fill="#c0c0c0" />
<rect x="161" y="631" width="1" height="13" fill="#c0c0c0" />
<rect x="169" y="631" width="1" height="13" fill="#c0c0c0" />
<rect x="177" y="631" width="1" height="13" fill="#c0c0c0" />
<rect x="185" y="632" width="1" height="12" fill="#c0c0c0" />
<rect x="193" y="632" width="1" height="12" fill="#c0c0c0" />
<rect x="201" y="633" width="1" height="11" fill="#c0c0c0" />
<rect x="209" y="633" width="1" height="11" fill="#c0c0c0" />
<rect x="217" y="634" width="1" height="10" fill="#c0c0c0" />
<rect x="225" y="634" width="1" height="10" fill="#c0c0c0" />
<rect x="233" y="635" width="1" height="9" fill="#c0c0c0" />
<rect x="241" y="637" width="1" height="7" fill="#c0c0c0" />
<rect x="249" y="638" width="1" height="6" fill="#c0c0c0" />
<rect x="257" y="639" width="1" height="5" fill="#c0c0c0" />
<rect x="265" y="640" width="1" height="4" fill="#c0c0c0" />
<rect x="273" y="641" width="1" height="3" fill="#c0c0c0" />
<rect x="281" y="642" width="1" height="2" fill="#c0c0c0" />
<rect x="289" y="643" width="1" height="2" fill="#c0c0c0" />
<rect x="297" y="643" width="1" height="3" fill="#c0c0c0" />
<rect x="305" y="643" width="1" height="5" fill="#c0c0c0" />
<rect x="313" y="643" width="1" height="3" fill="#c0c0c0" />
<rect x="321" y="643" width="1" height="2" fill="#c0c0c0" />
<rect x="329" y="643" width="1" height="1" fill="#c0c0c0" />
<rect x="337" y="642" width="1" height="2" fill="#c0c0c0" />
<rect x="345" y="641" width="1" height="3" fill="#c0c0c0" />
<rect x="353" y="640" width="1" height="4" fill="#c0c0c0" />
<rect x="361" y="639" width="1" height="5" fill="#c0c0c0" />
<rect x="369" y="638" width="1" height="6" fill="#c0c0c0" />
<rect x="377" y="637" width="1" height="7" fill="#c0c0c0" />
<rect x="385" y="636" width="1" height="8" fill="#c0c0c0" />
<rect x="393" y="636" width="1" height="8" fill="#c0c0c0" />
<rect x="401" y="638" width="1" height="6" fill="#c0c0c0" />
<rect x="409" y="638" width="1" height="6" fill="#c0c0c0" />
<rect x="417" y="638" width="1" height="6" fill="#c0c0c0" />
<rect x="425" y="640" width="1" height="4" fill="#c0c0c0" />
<rect x="433" y="643" width="1" height="1" fill="#c0c0c0" />
<rect x="441" y="643" width="1" height="2" fill="#c0c0c0" />
<rect x="449" y="643" width="1" height="3" fill="#c0c0c0" />
<rect x="457" y="643" width="1" height="6" fill="#c0c0c0" />
<rect x="465" y="643" width="1" height="7" fill="#c0c0c0" />
<rect x="473" y="643" width="1" height="10" fill="#c0c0c0" />
<rect x="481" y="643" width="1" height="12" fill="#c0c0c0" />
<rect x="489" y="643" width="1" height="15" fill="#c0c0c0" />
<rect x="497" y="643" width="1" height="11" fill="#c0c0c0" />
<rect x="505" y="643" width="1" height="6" fill="#c0c0c0" />
<rect x="513" y="643" width="1" height="4" fill="#c0c0c0" />
<rect x="521" y="643" width="1" height="3" fill="#c0c0c0" />
<rect x="529" y="643" width="1" height="2" fill="#c0c0c0" />
<rect x="537" y="643" width="1" height="1" fill="#c0c0c0" />
<rect x="545" y="642" width="1" height="2" fill="#c0c0c0" />
<rect x="553" y="641" width="1" height="3" fill="#c0c0c0" />
<rect x="561" y="642" width="1" height="2" fill="#c0c0c0" />
<rect x="569" y="642" width="1" height="2" fill="#c0c0c0" />
<rect x="577" y="643" width="1" height="1" fill="#c0c0c0" />
<rect x="585" y="643" width="1" height="1" fill="#c0c0c0" />
<rect x="593" y="643" width="1" height="2" fill="#c0c0c0" />
<rect x="601" y="643" width="1" height="2" fill="#c0c0c0" />
<rect x="609" y="643" width="1" height="2" fill="#c0c0c0" />
<rect x="617" y="643" width="1" height="3" fill="#c0c0c0" />
<rect x="625" y="643" width="1" height="6" fill="#c0c0c0" />
<rect x="633" y="643" width="1" height="11" fill="#c0c0c0" />
<rect x="641" y="643" width="1" height="15" fill="#c0c0c0" />
<rect x="649" y="643" width="1" height="18" fill="#c0c0c0" />
<rect x="657" y="643" width="1" height="25" fill="#c0c0c0" />
<rect x="665" y="643" width="1" height="34" fill="#c0c0c0" />
<rect x="673" y="643" width="1" height="38" fill="#c0c0c0" />
<rect x="681" y="643" width="1" height="38" fill="#c0c0c0" />
<rect x="689" y="643" width="1" height="41" fill="#c0c0c0" />
<rect x="697" y="643" width="1" height="41" fill="#c0c0c0" />
<rect x="705" y="643" width="1" height="43" fill="#c0c0c0" />
<rect x="713" y="643" width="1" height="46" fill="#c0c0c0" />
<rect x="721" y="643" width="1" height="52" fill="#c0c0c0" />
<rect x="729" y="643" width="1" height="58" fill="#c0c0c0" />
<rect x="737" y="643" width="1" height="61" fill="#c0c0c0" />
<rect x="745" y="643" width="1" height="67" fill="#c0c0c0" />
<rect x="753" y="643" width="1" height="80" fill="#c0c0c0" />
<rect x="761" y="643" width="1" height="85" fill="#c0c0c0" />
<rect x="769" y="643" width="1" height="89" fill="#c0c0c0" />
<rect x="777" y="643" width="1" height="97" fill="#c0c0c0" />
<rect x="785" y="643" width="1" height="99" fill="#c0c0c0" />
<rect x="793" y="643" width="1" height="100" fill="#c0c0c0" />
<rect x="801" y="643" width="1" height="98" fill="#c0c0c0" />
<rect x="809" y="643" width="1" height="97" fill="#c0c0c0" />
<rect x="817" y="643" width="1" height="97" fill="#c0c0c0" />
<rect x="825" y="643" width="1" height="92" fill="#c0c0c0" />
<rect x="833" y="643" width="1" height="80" fill="#c0c0c0" />
<rect x="841" y="643" width="1" height="69" fill="#c0c0c0" />
<rect x="849" y="643" width="1" height="57" fill="#c0c0c0" />
<rect x="857" y="643" width="1" height="51" fill="#c0c0c0" />
<rect x="865" y="643" width="1" height="45" fill="#c0c0c0" />
<rect x="873" y="643" width="1" height="38" fill="#c0c0c0" />
<rect x="881" y="643" width="1" height="34" fill="#c0c0c0" />
<rect x="889" y="643" width="1" height="34" fill="#c0c0c0" />
<rect x="897" y="643" width="1" height="34" fill="#c0c0c0" />
<rect x="905" y="643" width="1" height="35" fill="#c0c0c0" />
<rect x="913" y="643" width="1" height="34" fill="#c0c0c0" />
<rect x="921" y="643" width="1" height="27" fill="#c0c0c0" />
<rect x="929" y="643" width="1" height="21" fill="#c0c0c0" />
<rect x="937" y="643" width="1" height="14" fill="#c0c0c0" />
<rect x="945" y="643" width="1" height="9" fill="#c0c0c0" />
<rect x="953" y="643" width="1" height="5" fill="#c0c0c0" />
<rect x="961" y="643" width="1" height="3" fill="#c0c0c0" />
<rect x="969" y="643" width="1" height="1" fill="#c0c0c0" />
<rect x="977" y="642" width="1" height="2" fill="#c0c0c0" />
<rect x="985" y="640" width="1" height="4" fill="#c0c0c0" />
<rect x="993" y="638" width="1" height="6" fill="#c0c0c0" />
<rect x="1001" y="636" width="1" height="8" fill="#c0c0c0" />
<rect x="1009" y="634" width="1" height="10" fill="#c0c0c0" />
<rect x="1017" y="633" width="1" height="11" fill="#c0c0c0" />
<rect x="1025" y="634" width="1" height="10" fill="#c0c0c0" />
<rect x="1033" y="635" width="1" height="9" fill="#c0c0c0" />
<rect x="1041" y="635" width="1" height="9" fill="#c0c0c0" />
<rect x="1049" y="635" width="1" height="9" fill="#c0c0c0" />
<rect x="1057" y="635" width="1" height="9" fill="#c0c0c0" />
<rect x="1065" y="634" width="1" height="10" fill="#c0c0c0" />
<rect x="1073" y="632" width="1" height="12" fill="#c0c0c0" />
<rect x="1081" y="629" width="1" height="15" fill="#c0c0c0" />
<rect x="1089" y="628" width="1" height="16" fill="#c0c0c0" />
<rect x="1097" y="628" width="1" height="16" fill="#c0c0c0" />
<rect x="1105" y="631" width="1" height="13" fill="#c0c0c0" />
<rect x="1113" y="634" width="1" height="10" fill="#c0c0c0" />
<rect x="1121" y="635" width="1" height="9" fill="#c0c0c0" />
<rect x="1129" y="635" width="1" height="9" fill="#c0c0c0" />
<rect x="1137" y="634" width="1" height="10" fill="#c0c0c0" />
<rect x="1145" y="632" width="1" height="12" fill="#c0c0c0" />
<rect x="1153" y="630" width="1" height="14" fill="#c0c0c0" />
<rect x="1161" y="627" width="1" height="17" fill="#c0c0c0" />
<rect x="1169" y="628" width="1" height="16" fill="#c0c0c0" />
<rect x="1177" y="628" width="1" height="16" fill="#c0c0c0" />
<rect x="1185" y="629" width="1" height="15" fill="#c0c0c0" />
<rect x="1193" y="629" width="1" height="15" fill="#c0c0c0" />
<rect x="1201" y="629" width="1" height="15" fill="#c0c0c0" />
<rect x="1209" y="628" width="1" height="16" fill="#c0c0c0" />
<rect x="1217" y="627" width="1" height="17" fill="#c0c0c0" />
<rect x="1225" y="626" width="1" height="18" fill="#c0c0c0" />
<rect x="1233" y="625" width="1" height="19" fill="#c0c0c0" />
<rect x="1241" y="626" width="1" height="18" fill="#c0c0c0" />
<rect x="1249" y="625" width="1" height="19" fill="#c0c0c0" />
<rect x="1257" y="623" width="1" height="21" fill="#c0c0c0" />
<rect x="1265" y="620" width="1" height="24" fill="#c0c0c0" />
<rect x="1273" y="616" width="1" height="28" fill="#c0c0c0" />
<rect x="1281" y="613" width="1" height="31" fill="#c0c0c0" />
<rect x="1289" y="610" width="1" height="34" fill="#c0c0c0" />
<rect x="1297" y="607" width="1" height="37" fill="#c0c0c0" />
<rect x="1305" y="605" width="1" height="39" fill="#c0c0c0" />
<rect x="1313" y="601" width="1" height="43" fill="#c0c0c0" />
<rect x="1321" y="597" width="1" height="47" fill="#c0c0c0" />
<rect x="1329" y="596" width="1" height="48" fill="#c0c0c0" />
<rect x="1337" y="594" width="1" height="50" fill="#c0c0c0" />
<rect x="1345" y="592" width="1" height="52" fill="#c0c0c0" />
<rect x="1353" y="591" width="1" height="53" fill="#c0c0c0" />
<rect x="1361" y="593" width="1" height="51" fill="#c0c0c0" />
<rect x="1369" y="595" width="1" height="49" fill="#c0c0c0" />
<rect x="1377" y="602" width="1" height="42" fill="#c0c0c0" />
<rect x="1385" y="606" width="1" height="38" fill="#c0c0c0" />
<rect x="1393" y="611" width="1" height="33" fill="#c0c0c0" />
<rect x="1401" y="615" width="1" height="29" fill="#c0c0c0" />
<rect x="1409" y="616" width="1" height="28" fill="#c0c0c0" />
<rect x="1417" y="618" width="1" height="26" fill="#c0c0c0" />
<rect x="1425" y="619" width="1" height="25" fill="#c0c0c0" />
<rect x="1433" y="620" width="1" height="24" fill="#c0c0c0" />
<polyline points="0.0,629.0 30.0,632.0 100.0,635.0 140.0,635.6 180.0,633.0 220.0,631.4 260.0,634.0 300.0,640.4 330.0,644.6 346.0,644.7 370.0,642.6 394.0,638.0 421.0,636.3 436.0,637.5 466.0,642.6 490.0,649.5 514.0,652.5 541.0,650.0 556.0,646.5 583.0,642.6 616.0,642.6 646.0,646.5 661.0,653.0 691.5,669.6 721.5,682.5 742.5,690.6 766.5,704.2 784.6,719.2 805.6,731.2 820.6,737.8 832.6,737.2 850.7,729.7 856.0,725.0 870.3,715.3 891.8,695.6 906.0,684.9 920.5,679.5 942.0,669.8 970.6,659.8 981.4,651.9 999.3,643.7 1017.2,638.3 1049.4,634.7 1070.9,633.7 1099.6,631.1 1160.4,631.1 1196.3,628.6 1232.0,626.5 1260.7,624.7 1285.8,619.7 1303.7,615.0 1321.6,608.9 1346.7,600.7 1368.2,595.3 1386.0,595.3 1400.4,598.9 1414.7,603.2 1429.0,608.6 1433.0,609.5" fill="none" stroke="#ff0000" stroke-width="1" stroke-dasharray="3 3"/>
</g>
<text x="-2" y="593.5" font-size="9.2" fill="#000" text-anchor="start" font-weight="normal" font-family='"Liberation Sans", sans-serif' textLength="127.5" lengthAdjust="spacingAndGlyphs" stroke="#000" stroke-width="0.25">MACD(12,26,9) 351.09 499.58</text>
<g clip-path="url(#cr)" shape-rendering="crispEdges">
<line x1="0" y1="789.5" x2="1684" y2="789.5" stroke="#c0c0c0" stroke-width="1" stroke-dasharray="3 3"/>
<line x1="0" y1="840.5" x2="1684" y2="840.5" stroke="#c0c0c0" stroke-width="1" stroke-dasharray="3 3"/>
<line x1="0" y1="901.5" x2="1684" y2="901.5" stroke="#c0c0c0" stroke-width="1" stroke-dasharray="3 3"/>
<polyline points="-6.5,829.7 1.5,826.7 9.5,819.4 17.5,820.6 25.5,819.4 33.5,819.4 41.5,830.4 49.5,827.5 57.5,838.8 65.5,843.4 73.5,834.7 81.5,831.0 89.5,822.3 97.5,821.5 105.5,833.3 113.5,834.5 121.5,833.3 129.5,810.2 137.5,811.3 145.5,810.2 153.5,805.6 161.5,810.2 169.5,820.3 177.5,820.3 185.5,823.2 193.5,821.5 201.5,826.1 209.5,828.1 217.5,831.9 225.5,820.6 233.5,831.0 241.5,833.3 249.5,853.5 257.5,852.1 265.5,847.5 273.5,835.9 281.5,854.1 289.5,858.4 297.5,856.4 305.5,862.2 313.5,840.5 321.5,831.3 329.5,833.3 337.5,832.1 345.5,822.3 353.5,826.4 361.5,824.6 369.5,818.9 377.5,823.2 385.5,821.5 393.5,822.3 401.5,837.3 409.5,837.3 417.5,835.3 425.5,847.5 433.5,862.2 441.5,869.1 449.5,859.3 457.5,860.5 465.5,865.1 473.5,878.1 481.5,872.9 489.5,867.1 497.5,843.4 505.5,832.4 513.5,823.2 521.5,833.3 529.5,836.2 537.5,833.9 545.5,829.5 553.5,829.5 561.5,838.2 569.5,843.1 577.5,843.4 585.5,847.5 593.5,850.3 601.5,835.3 609.5,846.9 617.5,855.5 625.5,865.1 633.5,872.9 641.5,874.3 649.5,875.2 657.5,888.8 665.5,896.8 673.5,886.4 681.5,862.8 689.5,872.0 697.5,860.5 705.5,866.5 713.5,874.3 721.5,878.6 729.5,883.0 737.5,878.6 745.5,884.4 753.5,896.0 761.5,875.2 769.5,878.6 777.5,883.8 785.5,876.6 793.5,876.3 801.5,872.3 809.5,873.5 817.5,878.1 825.5,861.3 833.5,844.6 841.5,844.0 849.5,840.5 857.5,846.3 865.5,846.3 873.5,839.7 881.5,846.9 889.5,853.2 897.5,853.5 905.5,855.3 913.5,853.2 921.5,837.6 929.5,837.1 937.5,833.3 945.5,830.4 953.5,833.3 961.5,835.3 969.5,837.1 977.5,831.6 985.5,836.2 993.5,829.5 1001.5,831.3 1009.5,831.6 1017.5,834.5 1025.5,841.7 1033.5,838.8 1041.5,837.3 1049.5,834.5 1057.5,834.5 1065.5,828.1 1073.5,824.3 1081.5,817.4 1089.5,828.7 1097.5,838.2 1105.5,844.3 1113.5,840.2 1121.5,836.2 1129.5,839.7 1137.5,830.4 1145.5,825.2 1153.5,822.3 1161.5,820.3 1169.5,830.4 1177.5,829.5 1185.5,828.1 1193.5,832.1 1201.5,830.4 1209.5,818.9 1217.5,825.2 1225.5,819.4 1233.5,824.3 1241.5,824.3 1249.5,820.9 1257.5,815.1 1265.5,810.8 1273.5,802.7 1281.5,801.2 1289.5,798.3 1297.5,799.2 1305.5,795.5 1313.5,788.2 1321.5,786.2 1329.5,799.2 1337.5,792.6 1345.5,792.6 1353.5,794.3 1361.5,805.0 1369.5,811.6 1377.5,836.2 1385.5,831.3 1393.5,834.5 1401.5,833.6 1409.5,824.1 1417.5,828.4 1425.5,825.2 1433.5,830.4" fill="none" stroke="#1e90ff" stroke-width="1" />
</g>
<text x="-1.5" y="765.5" font-size="9.2" fill="#000" text-anchor="start" font-weight="normal" font-family='"Liberation Sans", sans-serif' textLength="67" lengthAdjust="spacingAndGlyphs" stroke="#000" stroke-width="0.25">RSI(14) 55.7127</text>
<rect x="0" y="44" width="217" height="68" fill="#fff" />
<polygon points="0,33.5 3,37 0,37" fill="#000"/>
<text x="8" y="38" font-size="9.2" fill="#000" text-anchor="start" font-weight="normal" font-family='"Liberation Sans", sans-serif' textLength="207" lengthAdjust="spacingAndGlyphs" xml:space="preserve" stroke="#000" stroke-width="0.25">JPN225-,Daily  22462.5 22652.5 22272.5 22282.5</text>
<g shape-rendering="crispEdges">
<rect x="0" y="46" width="48" height="25" fill="#b41010" />
<rect x="0" y="47" width="47" height="24" fill="url(#gtab)" />
<rect x="163" y="46" width="52" height="25" fill="#b41010" />
<rect x="164" y="47" width="50" height="24" fill="url(#gtab)" />
<rect x="0" y="70" width="105" height="40" fill="#b00808" />
<rect x="0" y="71" width="104" height="38" fill="url(#gblk)" />
<rect x="107" y="70" width="108" height="40" fill="#b00808" />
<rect x="108" y="71" width="106" height="38" fill="url(#gblk)" />
<rect x="0" y="69" width="47" height="3" fill="#dc3030" />
<rect x="164" y="69" width="50" height="3" fill="#dc3030" />
<rect x="0" y="69" width="44" height="1" fill="#a01010" />
<rect x="0" y="70" width="44" height="1" fill="#f07070" />
<rect x="167" y="69" width="45" height="1" fill="#a01010" />
<rect x="167" y="70" width="45" height="1" fill="#f07070" />
<rect x="50" y="46" width="111" height="23" fill="#a7adba" />
<rect x="51" y="47" width="109" height="21" fill="#fff" />
<rect x="52" y="48" width="19" height="19" fill="url(#gbtn)" />
<rect x="140" y="48" width="19" height="19" fill="url(#gbtn)" />
<rect x="71" y="47" width="1" height="21" fill="#c8ccd4" />
<rect x="139" y="47" width="1" height="21" fill="#c8ccd4" />
</g>
<polygon points="58,55.6 63.6,55.6 60.8,58.6" fill="#5a6ccc"/>
<polygon points="146.8,58.6 152.4,58.6 149.6,55.6" fill="#5a6ccc"/>
<text x="135.5" y="61.3" font-size="12" fill="#000" text-anchor="end" font-weight="normal" font-family='"Liberation Sans", sans-serif' >1.00</text>
<text x="8" y="62" font-size="12" fill="#fff" text-anchor="start" font-weight="normal" font-family='"Liberation Sans", sans-serif' textLength="26" lengthAdjust="spacingAndGlyphs">SELL</text>
<text x="176" y="62" font-size="12" fill="#fff" text-anchor="start" font-weight="normal" font-family='"Liberation Sans", sans-serif' textLength="24" lengthAdjust="spacingAndGlyphs">BUY</text>
<text x="12" y="101" font-size="12" fill="#fff" text-anchor="start" font-weight="bold" font-family='"Liberation Sans", sans-serif' textLength="34.5" lengthAdjust="spacingAndGlyphs">22281</text>
<text x="122" y="101" font-size="12" fill="#fff" text-anchor="start" font-weight="bold" font-family='"Liberation Sans", sans-serif' textLength="34.5" lengthAdjust="spacingAndGlyphs">22304</text>
<rect x="51.6" y="97.2" width="3.4" height="3.4" fill="#fff" />
<rect x="163" y="97.2" width="3.4" height="3.4" fill="#fff" />
<text x="55.3" y="101" font-size="32" fill="#fff" text-anchor="start" font-weight="200" font-family='"DejaVu Sans", "Liberation Sans", sans-serif' textLength="21.5" lengthAdjust="spacingAndGlyphs" stroke="#fff" stroke-width="0.5">0</text>
<text x="166.5" y="101" font-size="32" fill="#fff" text-anchor="start" font-weight="200" font-family='"DejaVu Sans", "Liberation Sans", sans-serif' textLength="21.5" lengthAdjust="spacingAndGlyphs" stroke="#fff" stroke-width="0.5">0</text>
<g shape-rendering="crispEdges">
<rect x="0" y="0" width="1731" height="21" fill="#f0f0f0" />
<rect x="0" y="21" width="1731" height="1" fill="#f7f7f7" />
<rect x="0" y="22" width="1730" height="1" fill="#a9a9a9" />
<rect x="0" y="23" width="1730" height="1" fill="#666666" />
<rect x="1730" y="22" width="1" height="1" fill="#f0f0f0" />
</g>
<rect x="-3" y="3.5" width="10.5" height="12.5" fill="#fff" stroke="#3b73d1" stroke-width="1.2"/><path d="M0,6.5H6M0,9H6M0,11.5H6M0,14H6" stroke="#b9cdf3" stroke-width="1"/>
<rect x="20.5" y="2.5" width="12" height="12.5" fill="#fbfaf6" stroke="#b9a98c"/><path d="M24,6v6M24,8h-1.5M29,5v6M29,7h1.5" stroke="#666" stroke-width="1"/><circle cx="28" cy="11.5" r="4.6" fill="#c9dcf5" fill-opacity="0.85" stroke="#6d9be0" stroke-width="1.3"/><path d="M32,15L37,19.3" stroke="#c9982e" stroke-width="2.4" stroke-linecap="round"/>
<rect x="45" y="0" width="1" height="20" fill="#a0a0a0" shape-rendering="crispEdges"/>
<path d="M55.5,3.5h8l3,3v9h-11z" fill="#fff" stroke="#7a7a7a"/><path d="M57.5,6.5h4M57.5,9.5h6M57.5,12h4" stroke="#888" stroke-width="1"/><path d="M65,8v11.5M59,13.8h12" stroke="#0a9a12" stroke-width="4"/><path d="M65,9v9.5M60,13.8h10" stroke="#35d63e" stroke-width="1.8"/>
<text x="73.5" y="13.7" font-size="12" fill="#000" text-anchor="start" font-weight="normal" font-family='"Liberation Sans", "Noto Sans CJK SC", sans-serif' stroke="#000" stroke-width="0.3">新订单</text>
<polygon points="128,3 138,10.5 129.5,17.5 121.5,11.5" fill="#e5b53c" stroke="#b8861e" stroke-width="1"/><polygon points="122,12.5 129.5,18.5 138,11.5 138,10.5 129.5,17.2 121.5,11.5" fill="#9c6d17"/><path d="M127.5,4.5L136,10.5" stroke="#f7df8a" stroke-width="1.5"/>
<rect x="153.5" y="2.5" width="9" height="10" fill="#3f8fe6" stroke="#2a6ec4"/><path d="M155,5.5h6M155,8h6" stroke="#cfe4fb" stroke-width="1"/><path d="M152,17.5a3,3 0 0 1 0.5,-6a4,4 0 0 1 7.5,-0.5a3.2,3.2 0 0 1 3.5,6.5z" fill="#f3f6fb" stroke="#8aa4c8"/>
<g fill="none"><circle cx="186" cy="10" r="7.2" stroke="#a9c6ea" stroke-width="1.6"/><circle cx="186" cy="10" r="4.3" stroke="#6f9fdc" stroke-width="1.6"/><path d="M187,17.5a7.5,7.5 0 0 0 5.5,-11.5" stroke="#3cab46" stroke-width="2"/><path d="M186.8,10v7.5" stroke="#3cab46" stroke-width="1.8"/></g><circle cx="186" cy="10" r="1.8" fill="#2a62c9"/>
<path d="M206,8.5l8,8.5l7,-7.5z" fill="#f2d24a" stroke="#caa21c" stroke-width="0.8"/><ellipse cx="213" cy="6.5" rx="7.8" ry="2.8" fill="#5b9fd9"/><ellipse cx="213" cy="4.8" rx="4.3" ry="2.6" fill="#6fb0e6"/><circle cx="217.3" cy="13.8" r="4" fill="#d8231c"/><rect x="215.7" y="12.2" width="3.2" height="3.2" fill="#fff"/>
<text x="226.3" y="14" font-size="12" fill="#000" text-anchor="start" font-weight="normal" font-family='"Liberation Sans", "Noto Sans CJK SC", sans-serif' textLength="47.2" lengthAdjust="spacingAndGlyphs" stroke="#000" stroke-width="0.3">自动交易</text>
<rect x="281" y="0" width="1" height="20" fill="#a0a0a0" shape-rendering="crispEdges"/>
<rect x="285" y="0" width="3" height="1" fill="#a8a8a8" shape-rendering="crispEdges"/>
<rect x="285" y="2" width="3" height="1" fill="#a8a8a8" shape-rendering="crispEdges"/>
<rect x="285" y="4" width="3" height="1" fill="#a8a8a8" shape-rendering="crispEdges"/>
<rect x="285" y="6" width="3" height="1" fill="#a8a8a8" shape-rendering="crispEdges"/>
<rect x="285" y="8" width="3" height="1" fill="#a8a8a8" shape-rendering="crispEdges"/>
<rect x="285" y="10" width="3" height="1" fill="#a8a8a8" shape-rendering="crispEdges"/>
<rect x="285" y="12" width="3" height="1" fill="#a8a8a8" shape-rendering="crispEdges"/>
<rect x="285" y="14" width="3" height="1" fill="#a8a8a8" shape-rendering="crispEdges"/>
<rect x="285" y="16" width="3" height="1" fill="#a8a8a8" shape-rendering="crispEdges"/>
<rect x="285" y="18" width="3" height="1" fill="#a8a8a8" shape-rendering="crispEdges"/>
<g stroke="#555" stroke-width="1.2" fill="none"><path d="M299.5,4.5V17.5M297,15.5H310"/><path d="M298,6.5L299.5,4.5L301,6.5M308.5,14L310.5,15.5L308.5,17" stroke-width="1"/></g>
<path d="M306.5,5.5v8M306.5,6.5h2.5M306.5,12.5h-2.8" stroke="#1e9a2b" stroke-width="1.5" fill="none"/>
<rect x="319" y="0" width="26" height="20" fill="#f8f8f8"/>
<rect x="319" y="0" width="1" height="20" fill="#a0a0a0" shape-rendering="crispEdges"/>
<g stroke="#555" stroke-width="1.2" fill="none"><path d="M327.5,4.5V17.5M325,15.5H338"/><path d="M326,6.5L327.5,4.5L329,6.5M336.5,14L338.5,15.5L336.5,17" stroke-width="1"/></g>
<path d="M333.5,2v12" stroke="#1e9a2b" stroke-width="1.2"/><rect x="331.3" y="4.5" width="4.6" height="7.5" fill="#2fd241" stroke="#18a428" stroke-width="0.8"/>
<g stroke="#555" stroke-width="1.2" fill="none"><path d="M355.5,4.5V17.5M353,15.5H366"/><path d="M354,6.5L355.5,4.5L357,6.5M364.5,14L366.5,15.5L364.5,17" stroke-width="1"/></g>
<path d="M354,13c3,-1.5 4.5,-6 7,-6s3.5,3.5 5.5,4" stroke="#3a9d46" stroke-width="1.3" fill="none"/>
<rect x="376" y="0" width="1" height="20" fill="#a0a0a0" shape-rendering="crispEdges"/>
<path d="M395.5,11.5L400,16.5" stroke="#c9a227" stroke-width="2.6" stroke-linecap="round"/><circle cx="391" cy="7.7" r="5.5" fill="#cfe3f7" stroke="#3f7fd6" stroke-width="1.4"/>
<path d="M388,7.7h6" stroke="#3a7cc4" stroke-width="1.8"/>
<path d="M391,4.7v6" stroke="#3a7cc4" stroke-width="1.8"/>
<path d="M423.5,11.5L428,16.5" stroke="#c9a227" stroke-width="2.6" stroke-linecap="round"/><circle cx="419" cy="7.7" r="5.5" fill="#cfe3f7" stroke="#3f7fd6" stroke-width="1.4"/>
<path d="M416,7.7h6" stroke="#3a7cc4" stroke-width="1.8"/>
<rect x="441" y="2" width="8" height="7.7" fill="#3f9b1d"/><rect x="442.5" y="5" width="5" height="3" fill="#e9f1ff" fill-opacity="0.9"/><rect x="443.5" y="6" width="3" height="1" fill="#3f9b1d"/>
<rect x="449.5" y="2" width="8" height="7.7" fill="#2b62d9"/><rect x="451.0" y="5" width="5" height="3" fill="#e9f1ff" fill-opacity="0.9"/><rect x="452.0" y="6" width="3" height="1" fill="#2b62d9"/>
<rect x="441" y="10.3" width="8" height="7.7" fill="#2b62d9"/><rect x="442.5" y="13.3" width="5" height="3" fill="#e9f1ff" fill-opacity="0.9"/><rect x="443.5" y="14.3" width="3" height="1" fill="#2b62d9"/>
<rect x="449.5" y="10.3" width="8" height="7.7" fill="#3f9b1d"/><rect x="451.0" y="13.3" width="5" height="3" fill="#e9f1ff" fill-opacity="0.9"/><rect x="452.0" y="14.3" width="3" height="1" fill="#3f9b1d"/>
<rect x="466" y="0" width="1" height="20" fill="#a0a0a0" shape-rendering="crispEdges"/>
<rect x="471" y="0" width="25" height="20" fill="#f8f8f8"/>
<rect x="471" y="0" width="1" height="20" fill="#a0a0a0" shape-rendering="crispEdges"/>
<g stroke="#555" stroke-width="1.2" fill="none"><path d="M479.5,4.5V17.5M477,15.5H490"/><path d="M478,6.5L479.5,4.5L481,6.5M488.5,14L490.5,15.5L488.5,17" stroke-width="1"/></g>
<polygon points="484,6.5 484,12.5 488,9.5" fill="#5fd064" stroke="#1e9a2b" stroke-width="1"/>
<rect x="499" y="0" width="25" height="20" fill="#f8f8f8"/>
<rect x="499" y="0" width="1" height="20" fill="#a0a0a0" shape-rendering="crispEdges"/>
<g stroke="#555" stroke-width="1.2" fill="none"><path d="M507.5,4.5V17.5M505,15.5H518"/><path d="M506,6.5L507.5,4.5L509,6.5M516.5,14L518.5,15.5L516.5,17" stroke-width="1"/></g>
<path d="M513.5,4v10" stroke="#2878c8" stroke-width="1.2"/><path d="M518.5,9.5h-4M516.5,7.5l-2,2l2,2" stroke="#d24a12" stroke-width="1.2" fill="none"/>
<rect x="528" y="0" width="1" height="20" fill="#a0a0a0" shape-rendering="crispEdges"/>
<path d="M538.5,3.5h8l3,3v9h-11z" fill="#fff" stroke="#7a7a7a"/><path d="M541.5,6v6M541.5,7.5h2M541.5,10.5h-1.5" stroke="#777" stroke-width="1"/><path d="M548,8v11.5M542,13.8h12" stroke="#0a9a12" stroke-width="4"/><path d="M548,9v9.5M543,13.8h10" stroke="#35d63e" stroke-width="1.8"/>
<polygon points="560,8.7 565.4,8.7 562.7,11.8" fill="#000"/>
<circle cx="584" cy="10" r="7.6" fill="#1f6fd0"/><circle cx="584" cy="10" r="7.6" fill="none" stroke="#0f4fa8" stroke-width="0.8"/><circle cx="584" cy="10" r="5.3" fill="#f4f8fd"/><path d="M583.3,6v4.2h3.5" stroke="#333" stroke-width="1.1" fill="none"/>
<polygon points="599,8.7 604.4,8.7 601.7,11.8" fill="#000"/>
<rect x="615.5" y="3.5" width="15" height="13" fill="#fff" stroke="#2f6fd3" stroke-width="1.2"/><rect x="616" y="4" width="14" height="2.2" fill="#7fb0ee"/><path d="M616,10.7h14" stroke="#2f6fd3" stroke-width="0.8"/><path d="M617.5,9l3,-1.2l2,-0.8l2,1l4,-1.4" stroke="#b02318" stroke-width="1.2" fill="none"/><path d="M618,14.5l2.5,-0.5l2,-1l2.5,0.5l2,-1.8l2,1.8" stroke="#1d8f2a" stroke-width="1.2" fill="none"/>
<polygon points="638,8.7 643.4,8.7 640.7,11.8" fill="#000"/>
<rect x="649" y="0" width="1" height="20" fill="#a0a0a0" shape-rendering="crispEdges"/>
<rect x="653" y="0" width="3" height="1" fill="#a8a8a8" shape-rendering="crispEdges"/>
<rect x="653" y="2" width="3" height="1" fill="#a8a8a8" shape-rendering="crispEdges"/>
<rect x="653" y="4" width="3" height="1" fill="#a8a8a8" shape-rendering="crispEdges"/>
<rect x="653" y="6" width="3" height="1" fill="#a8a8a8" shape-rendering="crispEdges"/>
<rect x="653" y="8" width="3" height="1" fill="#a8a8a8" shape-rendering="crispEdges"/>
<rect x="653" y="10" width="3" height="1" fill="#a8a8a8" shape-rendering="crispEdges"/>
<rect x="653" y="12" width="3" height="1" fill="#a8a8a8" shape-rendering="crispEdges"/>
<rect x="653" y="14" width="3" height="1" fill="#a8a8a8" shape-rendering="crispEdges"/>
<rect x="653" y="16" width="3" height="1" fill="#a8a8a8" shape-rendering="crispEdges"/>
<rect x="653" y="18" width="3" height="1" fill="#a8a8a8" shape-rendering="crispEdges"/>
<rect x="659" y="0" width="25" height="20" fill="#f8f8f8"/>
<rect x="659" y="0" width="1" height="20" fill="#a0a0a0" shape-rendering="crispEdges"/>
<polygon points="667.3,3 667.3,14.6 670,12.2 672.2,17 673.9,16.2 671.8,11.6 675.2,11.4" fill="#4a4a4a"/>
<path d="M699.5,3v15M692,10.5h15" stroke="#555" stroke-width="1"/><rect x="699" y="10" width="1" height="1" fill="#f0f0f0"/>
<rect x="716" y="0" width="1" height="20" fill="#a0a0a0" shape-rendering="crispEdges"/>
<path d="M733.5,4v13" stroke="#555" stroke-width="1.3"/><path d="M756,10.5h12" stroke="#555" stroke-width="1.3"/><path d="M783.8,17L796,4.8" stroke="#555" stroke-width="1.3"/>
<g stroke="#555" stroke-width="1.1" fill="none"><path d="M810,12l11.5,-8M811.5,16.5l11.5,-8"/><path d="M812,9l1.5,7M815,7.5l1.5,7M818,5l1.5,7M821,2.5l1.5,7" stroke-width="0.9"/></g>
<text x="821" y="18.5" font-size="6.5" fill="#333" text-anchor="start" font-weight="bold" font-family='"Liberation Sans", sans-serif' >E</text>
<line x1="838.5" y1="3.5" x2="852" y2="3.5" stroke="#555" stroke-width="1" stroke-dasharray="1 1" shape-rendering="crispEdges"/>
<line x1="838.5" y1="6.5" x2="852" y2="6.5" stroke="#555" stroke-width="1" stroke-dasharray="1 1" shape-rendering="crispEdges"/>
<line x1="838.5" y1="10.5" x2="852" y2="10.5" stroke="#555" stroke-width="1" stroke-dasharray="1 1" shape-rendering="crispEdges"/>
<line x1="838.5" y1="14.5" x2="847" y2="14.5" stroke="#555" stroke-width="1" stroke-dasharray="1 1" shape-rendering="crispEdges"/>
<text x="848.5" y="18.8" font-size="6.5" fill="#333" text-anchor="start" font-weight="bold" font-family='"Liberation Sans", sans-serif' >F</text>
<text x="869.3" y="15.2" font-size="13" fill="#555" text-anchor="start" font-weight="bold" font-family='"Liberation Sans", sans-serif' textLength="9" lengthAdjust="spacingAndGlyphs">A</text>
<rect x="895.5" y="4" width="12" height="12.5" fill="none" stroke="#555" stroke-width="1" stroke-dasharray="1 1" shape-rendering="crispEdges"/>
<text x="897.3" y="15" font-size="12" fill="#555" text-anchor="start" font-weight="bold" font-family='"Liberation Sans", sans-serif' textLength="8.5" lengthAdjust="spacingAndGlyphs">T</text>
<polygon points="923.5,7.5 927,3.5 930.5,7.5 927,9" fill="#4a4a4a"/><polygon points="930,13.5 933.5,12 937,13.5 933.5,17.3" fill="#4a4a4a"/><path d="M925,11l2.2,2.3l5,-5.3" stroke="#4a4a4a" stroke-width="1.3" fill="none"/>
<polygon points="944,8.7 949.4,8.7 946.7,11.8" fill="#000"/>
<rect x="955" y="0" width="1" height="20" fill="#a0a0a0" shape-rendering="crispEdges"/>
<rect x="959" y="0" width="3" height="1" fill="#a8a8a8" shape-rendering="crispEdges"/>
<rect x="959" y="2" width="3" height="1" fill="#a8a8a8" shape-rendering="crispEdges"/>
<rect x="959" y="4" width="3" height="1" fill="#a8a8a8" shape-rendering="crispEdges"/>
<rect x="959" y="6" width="3" height="1" fill="#a8a8a8" shape-rendering="crispEdges"/>
<rect x="959" y="8" width="3" height="1" fill="#a8a8a8" shape-rendering="crispEdges"/>
<rect x="959" y="10" width="3" height="1" fill="#a8a8a8" shape-rendering="crispEdges"/>
<rect x="959" y="12" width="3" height="1" fill="#a8a8a8" shape-rendering="crispEdges"/>
<rect x="959" y="14" width="3" height="1" fill="#a8a8a8" shape-rendering="crispEdges"/>
<rect x="959" y="16" width="3" height="1" fill="#a8a8a8" shape-rendering="crispEdges"/>
<rect x="959" y="18" width="3" height="1" fill="#a8a8a8" shape-rendering="crispEdges"/>
<text x="970.5" y="14.4" font-size="10.7" fill="#555" text-anchor="start" font-weight="normal" font-family='"Liberation Sans", sans-serif' textLength="12.5" lengthAdjust="spacingAndGlyphs">M1</text>
<text x="998.5" y="14.4" font-size="10.7" fill="#555" text-anchor="start" font-weight="normal" font-family='"Liberation Sans", sans-serif' textLength="12.5" lengthAdjust="spacingAndGlyphs">M5</text>
<text x="1024.8" y="14.4" font-size="10.7" fill="#555" text-anchor="start" font-weight="normal" font-family='"Liberation Sans", sans-serif' textLength="17.5" lengthAdjust="spacingAndGlyphs">M15</text>
<text x="1052.3" y="14.4" font-size="10.7" fill="#555" text-anchor="start" font-weight="normal" font-family='"Liberation Sans", sans-serif' textLength="18" lengthAdjust="spacingAndGlyphs">M30</text>
<text x="1083.6" y="14.4" font-size="10.7" fill="#555" text-anchor="start" font-weight="normal" font-family='"Liberation Sans", sans-serif' textLength="11.3" lengthAdjust="spacingAndGlyphs">H1</text>
<text x="1110.6" y="14.4" font-size="10.7" fill="#555" text-anchor="start" font-weight="normal" font-family='"Liberation Sans", sans-serif' textLength="12.3" lengthAdjust="spacingAndGlyphs">H4</text>
<rect x="1133" y="0" width="26" height="20" fill="#f8f8f8"/>
<rect x="1133" y="0" width="1" height="20" fill="#a0a0a0" shape-rendering="crispEdges"/>
<text x="1140" y="14.4" font-size="10.7" fill="#555" text-anchor="start" font-weight="normal" font-family='"Liberation Sans", sans-serif' textLength="11.2" lengthAdjust="spacingAndGlyphs">D1</text>
<text x="1166.9" y="14.4" font-size="10.7" fill="#555" text-anchor="start" font-weight="normal" font-family='"Liberation Sans", sans-serif' textLength="14.3" lengthAdjust="spacingAndGlyphs">W1</text>
<text x="1193.7" y="14.4" font-size="10.7" fill="#555" text-anchor="start" font-weight="normal" font-family='"Liberation Sans", sans-serif' textLength="14.5" lengthAdjust="spacingAndGlyphs">MN</text>
<rect x="1216" y="0" width="1" height="20" fill="#a0a0a0" shape-rendering="crispEdges"/>
<circle cx="1686" cy="7.8" r="3.9" fill="#eef3fb" stroke="#2f5fcf" stroke-width="1.6"/><path d="M1683.2,10.8L1679,15" stroke="#2f5fcf" stroke-width="2.2" stroke-linecap="round"/>
<g fill="#f6f6f6" stroke="#8c8c8c" stroke-width="0.9"><ellipse cx="1719" cy="7.5" rx="6.5" ry="4.8"/><path d="M1721,11.5l2.5,2.8l-0.3,-3.4z"/><ellipse cx="1712" cy="11" rx="6.3" ry="4.5"/><path d="M1708.5,14.5l-1.2,3l3.6,-2.3z"/></g>
</svg>
</body></html>
